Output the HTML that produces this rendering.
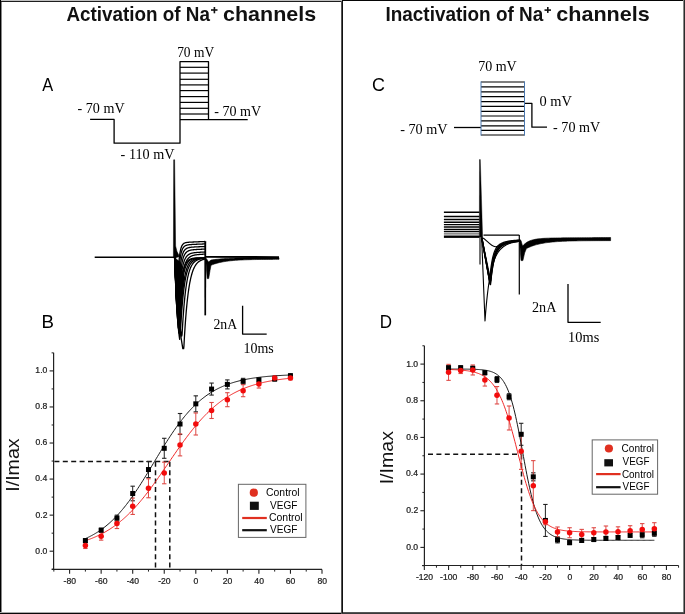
<!DOCTYPE html>
<html><head><meta charset="utf-8"><style>
html,body{margin:0;padding:0;background:#fff;}
svg{display:block;will-change:transform;}

</style></head><body>
<svg width="685" height="614" viewBox="0 0 685 614">
<rect width="685" height="614" fill="#fff"/>
<rect x="0" y="0" width="342" height="1" fill="#c0c0c0"/>
<rect x="0" y="1" width="342" height="1" fill="#1e1e1e"/>
<rect x="0" y="0" width="1" height="614" fill="#000"/>
<rect x="1" y="2" width="1" height="611" fill="#888"/>
<rect x="0" y="612" width="342" height="1" fill="#aaa"/>
<rect x="0" y="613" width="342" height="1" fill="#080808"/>
<rect x="341" y="1" width="1" height="613" fill="#555"/>
<rect x="342" y="0" width="1" height="614" fill="#111"/>
<rect x="342" y="0" width="343" height="1" fill="#050505"/>
<rect x="683" y="0" width="1" height="614" fill="#888"/>
<rect x="684" y="0" width="1" height="614" fill="#2b2b2b"/>
<rect x="343" y="612" width="341" height="1" fill="#555"/>
<rect x="342" y="613" width="343" height="1" fill="#3a3a3a"/>
<text x="66.53" y="21.00" font-family="Liberation Sans" font-size="20" font-weight="bold" fill="#111" text-anchor="start" textLength="143.42" lengthAdjust="spacingAndGlyphs" >Activation of Na</text>
<rect x="211.00" y="9.20" width="6.50" height="1.6" fill="#111"/>
<rect x="213.60" y="7.00" width="1.6" height="6.30" fill="#111"/>
<text x="223.04" y="21.00" font-family="Liberation Sans" font-size="21" font-weight="bold" fill="#111" text-anchor="start" textLength="93.12" lengthAdjust="spacingAndGlyphs" >channels</text>
<text x="385.47" y="21.00" font-family="Liberation Sans" font-size="20" font-weight="bold" fill="#111" text-anchor="start" textLength="157.73" lengthAdjust="spacingAndGlyphs" >Inactivation of Na</text>
<rect x="544.50" y="9.30" width="6.50" height="1.6" fill="#111"/>
<rect x="547.00" y="7.00" width="1.6" height="5.90" fill="#111"/>
<text x="556.34" y="21.00" font-family="Liberation Sans" font-size="21" font-weight="bold" fill="#111" text-anchor="start" textLength="93.43" lengthAdjust="spacingAndGlyphs" >channels</text>
<text x="42.32" y="91.40" font-family="Liberation Sans" font-size="17.6" font-weight="normal" fill="#000" text-anchor="start" textLength="10.92" lengthAdjust="spacingAndGlyphs" >A</text>
<text x="41.50" y="328.10" font-family="Liberation Sans" font-size="17.6" font-weight="normal" fill="#000" text-anchor="start" textLength="12.47" lengthAdjust="spacingAndGlyphs" >B</text>
<text x="371.90" y="91.10" font-family="Liberation Sans" font-size="17.6" font-weight="normal" fill="#000" text-anchor="start" textLength="12.95" lengthAdjust="spacingAndGlyphs" >C</text>
<text x="379.64" y="328.00" font-family="Liberation Sans" font-size="17.6" font-weight="normal" fill="#000" text-anchor="start" textLength="12.26" lengthAdjust="spacingAndGlyphs" >D</text>
<text x="177.13" y="56.80" font-family="Liberation Serif" font-size="14" font-weight="normal" fill="#000" text-anchor="start" textLength="37.01" lengthAdjust="spacingAndGlyphs" >70 mV</text>
<text x="77.61" y="113.20" font-family="Liberation Serif" font-size="14" font-weight="normal" fill="#000" text-anchor="start" textLength="46.98" lengthAdjust="spacingAndGlyphs" >- 70 mV</text>
<text x="214.31" y="115.90" font-family="Liberation Serif" font-size="14" font-weight="normal" fill="#000" text-anchor="start" textLength="46.88" lengthAdjust="spacingAndGlyphs" >- 70 mV</text>
<text x="120.60" y="159.00" font-family="Liberation Serif" font-size="14" font-weight="normal" fill="#000" text-anchor="start" textLength="53.95" lengthAdjust="spacingAndGlyphs" >- 110 mV</text>
<path d="M90.10 119.40 L114.10 119.40 L114.10 143.20 L180.00 143.20 L180.00 61.70 L208.50 61.70 L208.50 119.60" stroke="#000" stroke-width="1.3" fill="none" stroke-linejoin="round" />
<line x1="180.00" y1="119.60" x2="247.70" y2="119.60" stroke="#000" stroke-width="1.3" />
<line x1="180.00" y1="67.30" x2="208.50" y2="67.30" stroke="#000" stroke-width="1.2" />
<line x1="180.00" y1="73.10" x2="208.50" y2="73.10" stroke="#000" stroke-width="1.2" />
<line x1="180.00" y1="79.30" x2="208.50" y2="79.30" stroke="#000" stroke-width="1.2" />
<line x1="180.00" y1="84.90" x2="208.50" y2="84.90" stroke="#000" stroke-width="1.2" />
<line x1="180.00" y1="90.60" x2="208.50" y2="90.60" stroke="#000" stroke-width="1.2" />
<line x1="180.00" y1="96.60" x2="208.50" y2="96.60" stroke="#000" stroke-width="1.2" />
<line x1="180.00" y1="102.40" x2="208.50" y2="102.40" stroke="#000" stroke-width="1.2" />
<line x1="180.00" y1="108.30" x2="208.50" y2="108.30" stroke="#000" stroke-width="1.2" />
<line x1="180.00" y1="114.00" x2="208.50" y2="114.00" stroke="#000" stroke-width="1.2" />
<line x1="94.70" y1="257.30" x2="176.00" y2="257.30" stroke="#000" stroke-width="1.6" />
<path d="M173.4 258 L173.7 159.8 L174.6 159.8 L175.6 246 Q176.5 252 179.5 256.5 L175 258 Z" stroke="#000" stroke-width="0.5" fill="#000" stroke-linejoin="round" />
<path d="M175.20 258.00 L175.24 264.00 L175.35 270.00 L175.53 276.00 L175.79 282.00 L176.12 288.00 L176.52 294.00 L177.00 300.00 L177.41 288.02 L177.81 278.53 L178.22 271.01 L178.63 265.05 L179.04 260.32 L179.44 256.58 L179.85 253.62 L180.26 251.27 L180.67 249.41 L181.07 247.93 L181.48 246.76 L181.89 245.83 L182.29 245.10 L182.70 244.52 L183.11 244.06 L183.52 243.69 L183.92 243.40 L184.33 243.17 L184.74 242.99 L185.14 242.85 L185.55 242.74 L185.96 242.64 L186.37 242.56 L186.77 242.48 L187.18 242.42 L187.59 242.37 L188.00 242.32 L188.40 242.28 L188.81 242.25 L189.22 242.22 L189.62 242.19 L190.03 242.16 L190.44 242.14 L190.85 242.12 L191.25 242.10 L191.66 242.07 L192.07 242.06 L192.48 242.04 L192.88 242.02 L193.29 242.00 L193.70 241.98 L194.10 241.96 L194.51 241.94 L194.92 241.93 L195.33 241.91 L195.73 241.89 L196.14 241.87 L196.55 241.86 L196.96 241.84 L197.36 241.82 L197.77 241.80 L198.18 241.79 L198.58 241.77 L198.99 241.75 L199.40 241.74 L199.81 241.72 L200.21 241.70 L200.62 241.68 L201.03 241.67 L201.43 241.65 L201.84 241.63 L202.25 241.62 L202.66 241.60 L203.06 241.58 L203.47 241.56 L203.88 241.55 L204.29 241.53 L204.69 241.51 L205.10 241.50" stroke="#000" stroke-width="1.3" fill="none" stroke-linejoin="round" />
<path d="M175.20 258.00 L175.24 264.71 L175.36 271.43 L175.57 278.14 L175.85 284.86 L176.22 291.57 L176.67 298.29 L177.20 305.00 L177.60 293.96 L178.01 284.94 L178.41 277.58 L178.82 271.56 L179.22 266.64 L179.63 262.63 L180.03 259.35 L180.43 256.66 L180.84 254.47 L181.24 252.69 L181.65 251.22 L182.05 250.03 L182.46 249.05 L182.86 248.26 L183.27 247.61 L183.67 247.07 L184.07 246.64 L184.48 246.28 L184.88 245.99 L185.29 245.76 L185.69 245.56 L186.10 245.40 L186.50 245.26 L186.90 245.13 L187.31 245.03 L187.71 244.94 L188.12 244.87 L188.52 244.80 L188.93 244.75 L189.33 244.70 L189.73 244.66 L190.14 244.62 L190.54 244.59 L190.95 244.55 L191.35 244.53 L191.76 244.50 L192.16 244.47 L192.57 244.45 L192.97 244.43 L193.37 244.41 L193.78 244.39 L194.18 244.37 L194.59 244.35 L194.99 244.33 L195.40 244.31 L195.80 244.29 L196.20 244.27 L196.61 244.26 L197.01 244.24 L197.42 244.22 L197.82 244.20 L198.23 244.19 L198.63 244.17 L199.03 244.15 L199.44 244.14 L199.84 244.12 L200.25 244.10 L200.65 244.08 L201.06 244.07 L201.46 244.05 L201.87 244.03 L202.27 244.02 L202.67 244.00 L203.08 243.98 L203.48 243.96 L203.89 243.95 L204.29 243.93 L204.70 243.91 L205.10 243.90" stroke="#000" stroke-width="1.3" fill="none" stroke-linejoin="round" />
<path d="M175.20 258.00 L175.25 265.43 L175.39 272.86 L175.62 280.29 L175.95 287.71 L176.37 295.14 L176.89 302.57 L177.50 310.00 L177.90 299.99 L178.30 291.58 L178.70 284.51 L179.10 278.57 L179.50 273.58 L179.90 269.38 L180.30 265.86 L180.70 262.90 L181.10 260.41 L181.50 258.31 L181.90 256.56 L182.30 255.08 L182.70 253.84 L183.10 252.79 L183.50 251.92 L183.90 251.18 L184.30 250.56 L184.70 250.04 L185.10 249.60 L185.50 249.23 L185.90 248.93 L186.30 248.65 L186.70 248.42 L187.10 248.22 L187.50 248.05 L187.90 247.90 L188.30 247.78 L188.70 247.67 L189.10 247.57 L189.50 247.49 L189.90 247.42 L190.30 247.36 L190.70 247.30 L191.10 247.25 L191.50 247.21 L191.90 247.17 L192.30 247.14 L192.70 247.10 L193.10 247.07 L193.50 247.04 L193.90 247.02 L194.30 246.99 L194.70 246.97 L195.10 246.95 L195.50 246.93 L195.90 246.90 L196.30 246.88 L196.70 246.86 L197.10 246.85 L197.50 246.83 L197.90 246.81 L198.30 246.79 L198.70 246.77 L199.10 246.75 L199.50 246.74 L199.90 246.72 L200.30 246.70 L200.70 246.68 L201.10 246.67 L201.50 246.65 L201.90 246.63 L202.30 246.61 L202.70 246.60 L203.10 246.58 L203.50 246.56 L203.90 246.55 L204.30 246.53 L204.70 246.51 L205.10 246.50" stroke="#000" stroke-width="1.3" fill="none" stroke-linejoin="round" />
<path d="M175.20 258.00 L175.25 266.14 L175.41 274.29 L175.68 282.43 L176.05 290.57 L176.53 298.71 L177.11 306.86 L177.80 315.00 L178.20 305.81 L178.59 297.92 L178.99 291.14 L179.38 285.32 L179.78 280.32 L180.17 276.02 L180.57 272.34 L180.97 269.17 L181.36 266.45 L181.76 264.11 L182.15 262.11 L182.55 260.38 L182.94 258.90 L183.34 257.63 L183.73 256.54 L184.13 255.60 L184.53 254.80 L184.92 254.11 L185.32 253.51 L185.71 253.00 L186.11 252.56 L186.50 252.17 L186.90 251.83 L187.30 251.53 L187.69 251.28 L188.09 251.06 L188.48 250.87 L188.88 250.70 L189.27 250.55 L189.67 250.42 L190.07 250.31 L190.46 250.21 L190.86 250.12 L191.25 250.05 L191.65 249.98 L192.04 249.92 L192.44 249.86 L192.83 249.81 L193.23 249.77 L193.63 249.73 L194.02 249.69 L194.42 249.65 L194.81 249.62 L195.21 249.59 L195.60 249.56 L196.00 249.54 L196.40 249.51 L196.79 249.49 L197.19 249.47 L197.58 249.44 L197.98 249.42 L198.37 249.40 L198.77 249.38 L199.17 249.36 L199.56 249.34 L199.96 249.33 L200.35 249.31 L200.75 249.29 L201.14 249.27 L201.54 249.25 L201.93 249.24 L202.33 249.22 L202.73 249.20 L203.12 249.18 L203.52 249.17 L203.91 249.15 L204.31 249.13 L204.70 249.11 L205.10 249.10" stroke="#000" stroke-width="1.3" fill="none" stroke-linejoin="round" />
<path d="M175.20 258.00 L175.26 266.57 L175.43 275.14 L175.71 283.71 L176.11 292.29 L176.63 300.86 L177.26 309.43 L178.00 318.00 L178.39 310.00 L178.79 302.98 L179.18 296.82 L179.57 291.42 L179.96 286.68 L180.36 282.52 L180.75 278.88 L181.14 275.68 L181.53 272.87 L181.93 270.41 L182.32 268.25 L182.71 266.35 L183.11 264.69 L183.50 263.23 L183.89 261.95 L184.28 260.83 L184.68 259.84 L185.07 258.98 L185.46 258.22 L185.86 257.55 L186.25 256.96 L186.64 256.43 L187.03 255.97 L187.43 255.56 L187.82 255.19 L188.21 254.87 L188.60 254.59 L189.00 254.34 L189.39 254.12 L189.78 253.92 L190.18 253.75 L190.57 253.60 L190.96 253.46 L191.35 253.34 L191.75 253.23 L192.14 253.13 L192.53 253.04 L192.92 252.96 L193.32 252.89 L193.71 252.82 L194.10 252.76 L194.50 252.71 L194.89 252.66 L195.28 252.61 L195.67 252.57 L196.07 252.53 L196.46 252.50 L196.85 252.46 L197.24 252.43 L197.64 252.40 L198.03 252.38 L198.42 252.35 L198.82 252.32 L199.21 252.30 L199.60 252.28 L199.99 252.25 L200.39 252.23 L200.78 252.21 L201.17 252.19 L201.57 252.17 L201.96 252.15 L202.35 252.13 L202.74 252.11 L203.14 252.09 L203.53 252.08 L203.92 252.06 L204.31 252.04 L204.71 252.02 L205.10 252.00" stroke="#000" stroke-width="1.3" fill="none" stroke-linejoin="round" />
<path d="M175.20 258.00 L175.26 267.14 L175.45 276.29 L175.77 285.43 L176.21 294.57 L176.78 303.71 L177.48 312.86 L178.30 322.00 L178.69 314.76 L179.08 308.29 L179.47 302.53 L179.85 297.39 L180.24 292.80 L180.63 288.71 L181.02 285.06 L181.41 281.80 L181.80 278.90 L182.18 276.31 L182.57 274.00 L182.96 271.94 L183.35 270.10 L183.74 268.46 L184.13 266.99 L184.51 265.69 L184.90 264.52 L185.29 263.48 L185.68 262.56 L186.07 261.73 L186.46 260.97 L186.84 260.30 L187.23 259.70 L187.62 259.16 L188.01 258.67 L188.40 258.24 L188.79 257.85 L189.18 257.51 L189.56 257.19 L189.95 256.91 L190.34 256.66 L190.73 256.44 L191.12 256.23 L191.51 256.05 L191.89 255.88 L192.28 255.73 L192.67 255.60 L193.06 255.48 L193.45 255.37 L193.84 255.27 L194.22 255.17 L194.61 255.09 L195.00 255.01 L195.39 254.94 L195.78 254.88 L196.17 254.82 L196.56 254.77 L196.94 254.72 L197.33 254.67 L197.72 254.63 L198.11 254.59 L198.50 254.55 L198.89 254.51 L199.27 254.48 L199.66 254.45 L200.05 254.42 L200.44 254.39 L200.83 254.36 L201.22 254.34 L201.60 254.31 L201.99 254.29 L202.38 254.27 L202.77 254.24 L203.16 254.22 L203.55 254.20 L203.93 254.18 L204.32 254.16 L204.71 254.14 L205.10 254.12" stroke="#000" stroke-width="1.3" fill="none" stroke-linejoin="round" />
<path d="M175.20 258.00 L175.24 265.78 L175.35 273.56 L175.54 281.33 L175.81 289.11 L176.16 296.89 L176.58 304.67 L177.08 312.44 L177.65 320.22 L178.30 328.00 L178.64 320.49 L178.98 313.79 L179.32 307.80 L179.66 302.46 L180.00 297.68 L180.34 293.42 L180.67 289.61 L181.01 286.21 L181.35 283.17 L181.69 280.46 L182.03 278.04 L182.37 275.87 L182.71 273.94 L183.05 272.21 L183.39 270.67 L183.73 269.30 L184.07 268.07 L184.41 266.97 L184.75 265.99 L185.08 265.11 L185.42 264.33 L185.76 263.63 L186.10 263.01 L186.44 262.45 L186.78 261.96 L187.12 261.51 L187.46 261.11 L187.80 260.76 L188.14 260.44 L188.48 260.16 L188.82 259.91 L189.16 259.68 L189.49 259.48 L189.83 259.30 L190.17 259.14 L190.51 259.00 L190.85 258.87 L191.19 258.76 L191.53 258.65 L191.87 258.56 L192.21 258.48 L192.55 258.41 L192.89 258.34 L193.23 258.28 L193.57 258.23 L193.91 258.19 L194.24 258.15 L194.58 258.11 L194.92 258.08 L195.26 258.05 L195.60 258.02 L195.94 258.00 L196.28 257.98 L196.62 257.96 L196.96 257.94 L197.30 257.92 L197.64 257.91 L197.98 257.90 L198.32 257.89 L198.65 257.88 L198.99 257.87 L199.33 257.86 L199.67 257.86 L200.01 257.85 L200.35 257.85 L200.69 257.84 L201.03 257.84 L201.37 257.83 L201.71 257.83 L202.05 257.83 L202.39 257.82 L202.73 257.82 L203.06 257.82 L203.40 257.82 L203.74 257.81 L204.08 257.81 L204.42 257.81 L204.76 257.81 L205.10 257.81" stroke="#000" stroke-width="1.3" fill="none" stroke-linejoin="round" />
<path d="M175.20 258.00 L175.24 266.33 L175.38 274.67 L175.60 283.00 L175.91 291.33 L176.31 299.67 L176.80 308.00 L177.38 316.33 L178.04 324.67 L178.80 333.00 L179.13 325.58 L179.47 318.89 L179.80 312.87 L180.13 307.44 L180.46 302.54 L180.80 298.13 L181.13 294.15 L181.46 290.57 L181.80 287.34 L182.13 284.44 L182.46 281.81 L182.79 279.45 L183.13 277.32 L183.46 275.40 L183.79 273.67 L184.13 272.11 L184.46 270.71 L184.79 269.44 L185.13 268.30 L185.46 267.28 L185.79 266.35 L186.12 265.51 L186.46 264.76 L186.79 264.08 L187.12 263.47 L187.46 262.92 L187.79 262.43 L188.12 261.98 L188.45 261.58 L188.79 261.21 L189.12 260.89 L189.45 260.59 L189.79 260.32 L190.12 260.09 L190.45 259.87 L190.78 259.67 L191.12 259.50 L191.45 259.34 L191.78 259.20 L192.12 259.07 L192.45 258.95 L192.78 258.85 L193.12 258.76 L193.45 258.67 L193.78 258.60 L194.11 258.53 L194.45 258.47 L194.78 258.41 L195.11 258.36 L195.45 258.31 L195.78 258.27 L196.11 258.24 L196.44 258.20 L196.78 258.17 L197.11 258.15 L197.44 258.12 L197.78 258.10 L198.11 258.08 L198.44 258.06 L198.77 258.05 L199.11 258.03 L199.44 258.02 L199.77 258.01 L200.11 258.00 L200.44 257.99 L200.77 257.98 L201.11 257.97 L201.44 257.96 L201.77 257.96 L202.10 257.95 L202.44 257.95 L202.77 257.94 L203.10 257.94 L203.44 257.93 L203.77 257.93 L204.10 257.93 L204.43 257.92 L204.77 257.92 L205.10 257.92" stroke="#000" stroke-width="1.3" fill="none" stroke-linejoin="round" />
<path d="M175.20 258.00 L175.25 267.03 L175.42 276.07 L175.69 285.10 L176.07 294.13 L176.56 303.17 L177.16 312.20 L177.86 321.23 L178.68 330.27 L179.60 339.30 L179.92 332.14 L180.25 325.61 L180.57 319.65 L180.89 314.22 L181.21 309.27 L181.54 304.75 L181.86 300.63 L182.18 296.88 L182.51 293.45 L182.83 290.33 L183.15 287.48 L183.47 284.88 L183.80 282.51 L184.12 280.35 L184.44 278.38 L184.76 276.59 L185.09 274.95 L185.41 273.46 L185.73 272.10 L186.06 270.85 L186.38 269.72 L186.70 268.69 L187.02 267.75 L187.35 266.89 L187.67 266.11 L187.99 265.39 L188.32 264.74 L188.64 264.15 L188.96 263.60 L189.28 263.11 L189.61 262.66 L189.93 262.25 L190.25 261.88 L190.57 261.53 L190.90 261.22 L191.22 260.94 L191.54 260.68 L191.87 260.44 L192.19 260.23 L192.51 260.03 L192.83 259.85 L193.16 259.69 L193.48 259.54 L193.80 259.41 L194.13 259.28 L194.45 259.17 L194.77 259.07 L195.09 258.97 L195.42 258.89 L195.74 258.81 L196.06 258.74 L196.38 258.67 L196.71 258.61 L197.03 258.56 L197.35 258.51 L197.68 258.46 L198.00 258.42 L198.32 258.39 L198.64 258.35 L198.97 258.32 L199.29 258.29 L199.61 258.27 L199.94 258.24 L200.26 258.22 L200.58 258.20 L200.90 258.18 L201.23 258.17 L201.55 258.15 L201.87 258.14 L202.19 258.13 L202.52 258.12 L202.84 258.11 L203.16 258.10 L203.49 258.09 L203.81 258.08 L204.13 258.07 L204.45 258.07 L204.78 258.06 L205.10 258.06" stroke="#000" stroke-width="1.3" fill="none" stroke-linejoin="round" />
<path d="M175.20 258.00 L175.27 266.00 L175.46 274.00 L175.79 282.00 L176.25 290.00 L176.84 298.00 L177.56 306.00 L178.41 314.00 L179.39 322.00 L180.50 330.00 L180.81 324.61 L181.12 319.62 L181.43 315.00 L181.75 310.73 L182.06 306.79 L182.37 303.13 L182.68 299.75 L182.99 296.62 L183.30 293.73 L183.61 291.06 L183.93 288.58 L184.24 286.29 L184.55 284.17 L184.86 282.21 L185.17 280.40 L185.48 278.72 L185.79 277.17 L186.11 275.73 L186.42 274.40 L186.73 273.18 L187.04 272.04 L187.35 270.99 L187.66 270.02 L187.97 269.12 L188.28 268.28 L188.60 267.51 L188.91 266.80 L189.22 266.14 L189.53 265.53 L189.84 264.97 L190.15 264.45 L190.46 263.96 L190.78 263.52 L191.09 263.10 L191.40 262.72 L191.71 262.37 L192.02 262.04 L192.33 261.74 L192.64 261.46 L192.96 261.20 L193.27 260.96 L193.58 260.74 L193.89 260.53 L194.20 260.34 L194.51 260.17 L194.82 260.01 L195.14 259.85 L195.45 259.72 L195.76 259.59 L196.07 259.47 L196.38 259.36 L196.69 259.26 L197.00 259.16 L197.32 259.08 L197.63 259.00 L197.94 258.92 L198.25 258.85 L198.56 258.79 L198.87 258.73 L199.18 258.67 L199.49 258.62 L199.81 258.58 L200.12 258.53 L200.43 258.49 L200.74 258.46 L201.05 258.42 L201.36 258.39 L201.67 258.36 L201.99 258.33 L202.30 258.31 L202.61 258.29 L202.92 258.26 L203.23 258.25 L203.54 258.23 L203.85 258.21 L204.17 258.19 L204.48 258.18 L204.79 258.17 L205.10 258.15" stroke="#000" stroke-width="1.3" fill="none" stroke-linejoin="round" />
<path d="M175.20 258.00 L175.28 266.67 L175.51 275.33 L175.90 284.00 L176.44 292.67 L177.14 301.33 L178.00 310.00 L179.01 318.67 L180.18 327.33 L181.50 336.00 L181.80 336.00 L182.10 334.17 L182.40 328.82 L182.69 323.85 L182.99 319.23 L183.29 314.94 L183.59 310.94 L183.89 307.23 L184.19 303.78 L184.49 300.57 L184.79 297.58 L185.08 294.81 L185.38 292.23 L185.68 289.83 L185.98 287.60 L186.28 285.53 L186.58 283.60 L186.88 281.81 L187.18 280.14 L187.47 278.59 L187.77 277.15 L188.07 275.82 L188.37 274.57 L188.67 273.41 L188.97 272.34 L189.27 271.34 L189.57 270.41 L189.86 269.54 L190.16 268.74 L190.46 267.99 L190.76 267.29 L191.06 266.65 L191.36 266.05 L191.66 265.49 L191.96 264.97 L192.25 264.49 L192.55 264.04 L192.85 263.62 L193.15 263.23 L193.45 262.87 L193.75 262.54 L194.05 262.23 L194.35 261.94 L194.64 261.67 L194.94 261.42 L195.24 261.18 L195.54 260.97 L195.84 260.76 L196.14 260.58 L196.44 260.40 L196.74 260.24 L197.03 260.09 L197.33 259.95 L197.63 259.82 L197.93 259.70 L198.23 259.59 L198.53 259.48 L198.83 259.39 L199.13 259.30 L199.42 259.21 L199.72 259.13 L200.02 259.06 L200.32 258.99 L200.62 258.93 L200.92 258.87 L201.22 258.82 L201.52 258.77 L201.81 258.72 L202.11 258.68 L202.41 258.64 L202.71 258.60 L203.01 258.56 L203.31 258.53 L203.61 258.50 L203.91 258.47 L204.20 258.45 L204.50 258.42 L204.80 258.40 L205.10 258.38" stroke="#000" stroke-width="1.3" fill="none" stroke-linejoin="round" />
<path d="M175.20 258.00 L175.29 268.08 L175.58 278.16 L176.04 288.23 L176.70 298.31 L177.55 308.39 L178.58 318.47 L179.80 328.54 L181.20 338.62 L182.80 348.70 L183.08 348.70 L183.36 348.70 L183.65 348.70 L183.93 346.20 L184.21 340.96 L184.49 336.03 L184.78 331.40 L185.06 327.04 L185.34 322.95 L185.62 319.09 L185.91 315.47 L186.19 312.06 L186.47 308.85 L186.75 305.84 L187.03 303.00 L187.32 300.34 L187.60 297.83 L187.88 295.47 L188.16 293.25 L188.45 291.16 L188.73 289.20 L189.01 287.36 L189.29 285.62 L189.57 283.99 L189.86 282.45 L190.14 281.01 L190.42 279.65 L190.70 278.38 L190.99 277.18 L191.27 276.05 L191.55 274.98 L191.83 273.99 L192.12 273.05 L192.40 272.16 L192.68 271.33 L192.96 270.55 L193.24 269.81 L193.53 269.12 L193.81 268.47 L194.09 267.86 L194.37 267.29 L194.66 266.75 L194.94 266.24 L195.22 265.76 L195.50 265.31 L195.78 264.89 L196.07 264.49 L196.35 264.11 L196.63 263.76 L196.91 263.43 L197.20 263.12 L197.48 262.83 L197.76 262.55 L198.04 262.29 L198.33 262.05 L198.61 261.82 L198.89 261.60 L199.17 261.40 L199.45 261.21 L199.74 261.03 L200.02 260.86 L200.30 260.70 L200.58 260.56 L200.87 260.42 L201.15 260.28 L201.43 260.16 L201.71 260.04 L201.99 259.93 L202.28 259.83 L202.56 259.73 L202.84 259.64 L203.12 259.56 L203.41 259.48 L203.69 259.40 L203.97 259.33 L204.25 259.26 L204.54 259.20 L204.82 259.14 L205.10 259.08" stroke="#000" stroke-width="1.3" fill="none" stroke-linejoin="round" />
<path d="M175.20 258.00 L175.24 265.39 L175.35 272.78 L175.53 280.17 L175.78 287.56 L176.11 294.95 L176.51 302.35 L176.98 309.74 L177.53 317.13 L178.15 324.52 L178.84 331.91 L179.60 339.30 L180.05 329.58 L180.49 321.03 L180.94 313.50 L181.38 306.86 L181.83 301.03 L182.27 295.88 L182.72 291.36 L183.16 287.37 L183.61 283.86 L184.05 280.77 L184.50 278.05 L180.00 262.00 Z" stroke="#000" stroke-width="0.5" fill="#000" stroke-linejoin="round" />
<path d="M204.4 241.2 L206.1 241.2 L206.0 315.2 L204.5 315.2 Z" stroke="#000" stroke-width="0.2" fill="#000" stroke-linejoin="round" />
<line x1="205.50" y1="256.80" x2="279.00" y2="257.10" stroke="#000" stroke-width="1.8" />
<path d="M205.60 258.00 L207.20 278.60 L208.70 278.60 L210.00 270.50 L211.00 265.30 L212.74 264.60 L214.49 263.98 L216.23 263.43 L217.97 262.95 L219.72 262.52 L221.46 262.14 L223.21 261.81 L224.95 261.52 L226.69 261.26 L228.44 261.03 L230.18 260.82 L231.92 260.65 L233.67 260.49 L235.41 260.35 L237.15 260.23 L238.90 260.12 L240.64 260.02 L242.38 259.94 L244.13 259.86 L245.87 259.80 L247.62 259.74 L249.36 259.69 L251.10 259.64 L252.85 259.60 L254.59 259.57 L256.33 259.54 L258.08 259.51 L259.82 259.48 L261.56 259.46 L263.31 259.44 L265.05 259.43 L266.79 259.41 L268.54 259.40 L270.28 259.39 L272.03 259.38 L273.77 259.37 L275.51 259.36 L277.26 259.35 L279.00 259.35 L279.00 257.72 L277.26 257.72 L275.51 257.72 L273.77 257.73 L272.03 257.73 L270.28 257.73 L268.54 257.74 L266.79 257.74 L265.05 257.75 L263.31 257.76 L261.56 257.76 L259.82 257.77 L258.08 257.78 L256.33 257.79 L254.59 257.81 L252.85 257.82 L251.10 257.84 L249.36 257.85 L247.62 257.88 L245.87 257.90 L244.13 257.93 L242.38 257.96 L240.64 257.99 L238.90 258.03 L237.15 258.07 L235.41 258.12 L233.67 258.18 L231.92 258.24 L230.18 258.31 L228.44 258.39 L226.69 258.48 L224.95 258.59 L223.21 258.70 L221.46 258.84 L219.72 258.99 L217.97 259.16 L216.23 259.35 L214.49 259.57 L212.74 259.82 L211.00 260.10 L208.50 262.00 L207.00 259.50 Z" stroke="#000" stroke-width="0.6" fill="#000" stroke-linejoin="round" />
<path d="M242.6 305.8 L242.6 334.1 L266.7 334.1" stroke="#000" stroke-width="1.3" fill="none" stroke-linejoin="round" />
<text x="213.48" y="328.60" font-family="Liberation Serif" font-size="14" font-weight="normal" fill="#000" text-anchor="start" textLength="23.72" lengthAdjust="spacingAndGlyphs" >2nA</text>
<text x="243.44" y="352.60" font-family="Liberation Serif" font-size="14" font-weight="normal" fill="#000" text-anchor="start" textLength="30.31" lengthAdjust="spacingAndGlyphs" >10ms</text>
<text x="478.19" y="70.80" font-family="Liberation Serif" font-size="14" font-weight="normal" fill="#000" text-anchor="start" textLength="38.55" lengthAdjust="spacingAndGlyphs" >70 mV</text>
<text x="400.20" y="133.50" font-family="Liberation Serif" font-size="14" font-weight="normal" fill="#000" text-anchor="start" textLength="47.48" lengthAdjust="spacingAndGlyphs" >- 70 mV</text>
<text x="539.52" y="105.50" font-family="Liberation Serif" font-size="14" font-weight="normal" fill="#000" text-anchor="start" textLength="32.42" lengthAdjust="spacingAndGlyphs" >0 mV</text>
<text x="553.11" y="131.80" font-family="Liberation Serif" font-size="14" font-weight="normal" fill="#000" text-anchor="start" textLength="47.08" lengthAdjust="spacingAndGlyphs" >- 70 mV</text>
<line x1="454.00" y1="127.50" x2="481.00" y2="127.50" stroke="#000" stroke-width="1.3" />
<path d="M524.50 103.30 L531.90 103.30 L531.90 127.20 L547.00 127.20" stroke="#000" stroke-width="1.3" fill="none" stroke-linejoin="round" />
<line x1="481.00" y1="82.00" x2="524.50" y2="82.00" stroke="#000" stroke-width="1.2" />
<line x1="481.00" y1="86.90" x2="524.50" y2="86.90" stroke="#000" stroke-width="1.2" />
<line x1="481.00" y1="91.80" x2="524.50" y2="91.80" stroke="#000" stroke-width="1.2" />
<line x1="481.00" y1="96.60" x2="524.50" y2="96.60" stroke="#000" stroke-width="1.2" />
<line x1="481.00" y1="101.60" x2="524.50" y2="101.60" stroke="#000" stroke-width="1.2" />
<line x1="481.00" y1="106.40" x2="524.50" y2="106.40" stroke="#000" stroke-width="1.2" />
<line x1="481.00" y1="111.30" x2="524.50" y2="111.30" stroke="#000" stroke-width="1.2" />
<line x1="481.00" y1="116.00" x2="524.50" y2="116.00" stroke="#000" stroke-width="1.2" />
<line x1="481.00" y1="120.80" x2="524.50" y2="120.80" stroke="#000" stroke-width="1.2" />
<line x1="481.00" y1="125.80" x2="524.50" y2="125.80" stroke="#000" stroke-width="1.2" />
<line x1="481.00" y1="130.30" x2="524.50" y2="130.30" stroke="#000" stroke-width="1.2" />
<line x1="481.00" y1="135.00" x2="524.50" y2="135.00" stroke="#000" stroke-width="1.2" />
<line x1="481.00" y1="81.40" x2="481.00" y2="135.60" stroke="#4a78b0" stroke-width="1.0" />
<line x1="524.50" y1="81.40" x2="524.50" y2="135.60" stroke="#4a78b0" stroke-width="1.0" />
<line x1="443.90" y1="212.30" x2="479.40" y2="212.30" stroke="#000" stroke-width="1.4" />
<line x1="443.90" y1="216.50" x2="479.40" y2="216.50" stroke="#000" stroke-width="1.4" />
<line x1="443.90" y1="219.50" x2="479.40" y2="219.50" stroke="#000" stroke-width="1.4" />
<line x1="443.90" y1="222.30" x2="479.40" y2="222.30" stroke="#000" stroke-width="1.4" />
<line x1="443.90" y1="224.60" x2="479.40" y2="224.60" stroke="#000" stroke-width="1.4" />
<line x1="443.90" y1="227.00" x2="479.40" y2="227.00" stroke="#000" stroke-width="1.4" />
<line x1="443.90" y1="229.50" x2="479.40" y2="229.50" stroke="#000" stroke-width="1.4" />
<line x1="443.90" y1="231.60" x2="479.40" y2="231.60" stroke="#000" stroke-width="1.4" />
<line x1="443.90" y1="233.80" x2="479.40" y2="233.80" stroke="#666" stroke-width="1.2" />
<rect x="443.9" y="235.5" width="35.5" height="2.4" fill="#000"/>
<path d="M479.3 237 L479.5 159.6 L480.3 159.6 L482.6 237 Z" stroke="#000" stroke-width="0.4" fill="#000" stroke-linejoin="round" />
<line x1="480.00" y1="236.00" x2="480.00" y2="264.40" stroke="#000" stroke-width="1.1" />
<line x1="483.50" y1="235.10" x2="519.30" y2="235.10" stroke="#000" stroke-width="1.2" />
<line x1="519.30" y1="235.10" x2="519.30" y2="294.60" stroke="#000" stroke-width="1.2" />
<path d="M481.60 237.00 L485.00 321.00 L485.58 313.42 L486.16 306.65 L486.74 300.58 L487.33 295.15 L487.91 290.27 L488.49 285.90 L489.07 281.96 L489.65 278.41 L490.23 275.22 L490.81 272.33 L491.39 269.72 L491.98 267.36 L492.56 265.22 L493.14 263.28 L493.72 261.52 L494.30 259.91 L494.88 258.44 L495.46 257.11 L496.05 255.88 L496.63 254.76 L497.21 253.74 L497.79 252.79 L498.37 251.93 L498.95 251.13 L499.53 250.39 L500.12 249.71 L500.70 249.09 L501.28 248.50 L501.86 247.96 L502.44 247.46 L503.02 247.00 L503.60 246.57 L504.18 246.16 L504.77 245.79 L505.35 245.44 L505.93 245.11 L506.51 244.80 L507.09 244.52 L507.67 244.25 L508.25 244.00 L508.84 243.76 L509.42 243.54 L510.00 243.34 L510.58 243.14 L511.16 242.96 L511.74 242.78 L512.32 242.62 L512.91 242.47 L513.49 242.32 L514.07 242.19 L514.65 242.06 L515.23 241.94 L515.81 241.82 L516.39 241.72 L516.97 241.62 L517.56 241.52 L518.14 241.43 L518.72 241.34 L519.30 241.26" stroke="#000" stroke-width="1.1" fill="none" stroke-linejoin="round" />
<path d="M481.80 238.00 L489.60 281.00 L490.10 275.40 L490.61 270.67 L491.11 266.67 L491.61 263.28 L492.12 260.40 L492.62 257.95 L493.12 255.85 L493.63 254.06 L494.13 252.52 L494.63 251.19 L495.14 250.04 L495.64 249.04 L496.14 248.17 L496.65 247.41 L497.15 246.74 L497.65 246.14 L498.16 245.62 L498.66 245.15 L499.16 244.73 L499.67 244.35 L500.17 244.01 L500.67 243.71 L501.18 243.43 L501.68 243.17 L502.18 242.94 L502.69 242.73 L503.19 242.53 L503.69 242.35 L504.20 242.18 L504.70 242.03 L505.21 241.88 L505.71 241.75 L506.21 241.62 L506.72 241.51 L507.22 241.40 L507.72 241.29 L508.23 241.20 L508.73 241.11 L509.23 241.02 L509.74 240.94 L510.24 240.87 L510.74 240.80 L511.25 240.73 L511.75 240.67 L512.25 240.61 L512.76 240.55 L513.26 240.50 L513.76 240.45 L514.27 240.40 L514.77 240.36 L515.27 240.32 L515.78 240.28 L516.28 240.24 L516.78 240.21 L517.29 240.17 L517.79 240.14 L518.29 240.11 L518.80 240.09 L519.30 240.06" stroke="#000" stroke-width="1.2" fill="none" stroke-linejoin="round" />
<path d="M481.80 238.00 L490.00 283.00 L490.50 277.61 L490.99 273.01 L491.49 269.06 L491.99 265.67 L492.48 262.76 L492.98 260.24 L493.48 258.07 L493.97 256.20 L494.47 254.56 L494.97 253.14 L495.46 251.90 L495.96 250.82 L496.46 249.86 L496.95 249.02 L497.45 248.27 L497.95 247.61 L498.44 247.02 L498.94 246.49 L499.44 246.01 L499.93 245.58 L500.43 245.20 L500.93 244.85 L501.42 244.52 L501.92 244.23 L502.42 243.96 L502.91 243.72 L503.41 243.49 L503.91 243.28 L504.40 243.08 L504.90 242.90 L505.39 242.73 L505.89 242.57 L506.39 242.42 L506.88 242.28 L507.38 242.15 L507.88 242.03 L508.37 241.92 L508.87 241.81 L509.37 241.71 L509.86 241.61 L510.36 241.52 L510.86 241.43 L511.35 241.35 L511.85 241.27 L512.35 241.20 L512.84 241.13 L513.34 241.07 L513.84 241.00 L514.33 240.94 L514.83 240.89 L515.33 240.83 L515.82 240.78 L516.32 240.74 L516.82 240.69 L517.31 240.65 L517.81 240.61 L518.31 240.57 L518.80 240.53 L519.30 240.49" stroke="#000" stroke-width="1.5" fill="none" stroke-linejoin="round" />
<path d="M481.80 238.00 L490.20 284.00 L490.69 278.70 L491.19 274.13 L491.68 270.19 L492.17 266.79 L492.67 263.85 L493.16 261.30 L493.65 259.09 L494.15 257.16 L494.64 255.48 L495.13 254.01 L495.63 252.72 L496.12 251.59 L496.61 250.59 L497.11 249.70 L497.60 248.91 L498.09 248.21 L498.58 247.59 L499.08 247.03 L499.57 246.53 L500.06 246.07 L500.56 245.66 L501.05 245.29 L501.54 244.95 L502.04 244.64 L502.53 244.35 L503.02 244.09 L503.52 243.85 L504.01 243.63 L504.50 243.42 L505.00 243.23 L505.49 243.05 L505.98 242.88 L506.48 242.73 L506.97 242.58 L507.46 242.45 L507.96 242.32 L508.45 242.20 L508.94 242.09 L509.44 241.98 L509.93 241.88 L510.42 241.78 L510.92 241.69 L511.41 241.61 L511.90 241.53 L512.39 241.45 L512.89 241.38 L513.38 241.31 L513.87 241.25 L514.37 241.19 L514.86 241.13 L515.35 241.07 L515.85 241.02 L516.34 240.97 L516.83 240.92 L517.33 240.88 L517.82 240.84 L518.31 240.80 L518.81 240.76 L519.30 240.72" stroke="#000" stroke-width="1.5" fill="none" stroke-linejoin="round" />
<path d="M481.80 238.00 L490.50 284.50 L490.99 279.55 L491.48 275.24 L491.96 271.49 L492.45 268.21 L492.94 265.35 L493.43 262.85 L493.92 260.66 L494.41 258.73 L494.89 257.03 L495.38 255.54 L495.87 254.22 L496.36 253.05 L496.85 252.01 L497.33 251.08 L497.82 250.25 L498.31 249.51 L498.80 248.85 L499.29 248.25 L499.77 247.71 L500.26 247.22 L500.75 246.78 L501.24 246.37 L501.73 246.00 L502.22 245.67 L502.70 245.36 L503.19 245.07 L503.68 244.80 L504.17 244.56 L504.66 244.33 L505.14 244.12 L505.63 243.92 L506.12 243.74 L506.61 243.57 L507.10 243.41 L507.58 243.25 L508.07 243.11 L508.56 242.98 L509.05 242.85 L509.54 242.73 L510.03 242.62 L510.51 242.51 L511.00 242.41 L511.49 242.31 L511.98 242.22 L512.47 242.13 L512.95 242.05 L513.44 241.97 L513.93 241.90 L514.42 241.82 L514.91 241.76 L515.39 241.69 L515.88 241.63 L516.37 241.57 L516.86 241.52 L517.35 241.46 L517.84 241.41 L518.32 241.36 L518.81 241.32 L519.30 241.27" stroke="#000" stroke-width="1.4" fill="none" stroke-linejoin="round" />
<path d="M481.80 238.00 L490.80 281.00 L491.28 276.72 L491.77 272.97 L492.25 269.66 L492.73 266.75 L493.22 264.19 L493.70 261.92 L494.18 259.92 L494.66 258.15 L495.15 256.58 L495.63 255.18 L496.11 253.94 L496.60 252.83 L497.08 251.84 L497.56 250.95 L498.05 250.15 L498.53 249.44 L499.01 248.79 L499.49 248.21 L499.98 247.68 L500.46 247.20 L500.94 246.77 L501.43 246.37 L501.91 246.01 L502.39 245.67 L502.88 245.37 L503.36 245.08 L503.84 244.82 L504.33 244.58 L504.81 244.36 L505.29 244.15 L505.77 243.96 L506.26 243.78 L506.74 243.61 L507.22 243.46 L507.71 243.31 L508.19 243.17 L508.67 243.04 L509.16 242.92 L509.64 242.80 L510.12 242.69 L510.61 242.59 L511.09 242.49 L511.57 242.40 L512.05 242.31 L512.54 242.23 L513.02 242.15 L513.50 242.08 L513.99 242.01 L514.47 241.94 L514.95 241.88 L515.44 241.81 L515.92 241.76 L516.40 241.70 L516.88 241.65 L517.37 241.60 L517.85 241.55 L518.33 241.50 L518.82 241.46 L519.30 241.42" stroke="#000" stroke-width="1.1" fill="none" stroke-linejoin="round" />
<path d="M482 237.5 C486 239, 490 246, 495.4 246.8 C498 246.5, 500 244.5, 504 243.5" stroke="#000" stroke-width="1.1" fill="none" stroke-linejoin="round" />
<path d="M519.40 239.00 L521.00 260.60 L522.90 260.60 L524.60 253.00 L526.40 248.60 L528.12 247.73 L529.84 246.96 L531.56 246.27 L533.27 245.66 L534.99 245.11 L536.71 244.62 L538.43 244.19 L540.15 243.80 L541.87 243.45 L543.58 243.14 L545.30 242.87 L547.02 242.62 L548.74 242.40 L550.46 242.21 L552.18 242.03 L553.89 241.88 L555.61 241.74 L557.33 241.62 L559.05 241.51 L560.77 241.41 L562.49 241.32 L564.20 241.24 L565.92 241.17 L567.64 241.11 L569.36 241.06 L571.08 241.01 L572.80 240.96 L574.51 240.92 L576.23 240.89 L577.95 240.86 L579.67 240.83 L581.39 240.80 L583.11 240.78 L584.82 240.76 L586.54 240.75 L588.26 240.73 L589.98 240.72 L591.70 240.70 L593.42 240.69 L595.13 240.68 L596.85 240.67 L598.57 240.67 L600.29 240.66 L602.01 240.65 L603.73 240.65 L605.44 240.64 L607.16 240.64 L608.88 240.63 L610.60 240.63 L610.60 237.50 L608.88 237.51 L607.16 237.52 L605.44 237.54 L603.73 237.55 L602.01 237.56 L600.29 237.57 L598.57 237.59 L596.85 237.60 L595.13 237.61 L593.42 237.62 L591.70 237.64 L589.98 237.65 L588.26 237.66 L586.54 237.67 L584.82 237.69 L583.11 237.70 L581.39 237.71 L579.67 237.72 L577.95 237.74 L576.23 237.75 L574.51 237.76 L572.80 237.78 L571.08 237.79 L569.36 237.80 L567.64 237.82 L565.92 237.84 L564.20 237.85 L562.49 237.87 L560.77 237.89 L559.05 237.91 L557.33 237.93 L555.61 237.96 L553.89 237.99 L552.18 238.03 L550.46 238.07 L548.74 238.13 L547.02 238.19 L545.30 238.27 L543.58 238.37 L541.87 238.48 L540.15 238.63 L538.43 238.82 L536.71 239.06 L534.99 239.36 L533.27 239.74 L531.56 240.22 L529.84 240.83 L528.12 241.61 L526.40 242.60 L524.00 244.50 L522.50 246.00 L521.00 240.50 Z" stroke="#000" stroke-width="0.6" fill="#000" stroke-linejoin="round" />
<path d="M568.0 283.9 L568.0 322.3 L600.7 322.3" stroke="#000" stroke-width="1.3" fill="none" stroke-linejoin="round" />
<text x="531.96" y="311.90" font-family="Liberation Serif" font-size="14" font-weight="normal" fill="#000" text-anchor="start" textLength="24.44" lengthAdjust="spacingAndGlyphs" >2nA</text>
<text x="568.11" y="342.30" font-family="Liberation Serif" font-size="14" font-weight="normal" fill="#000" text-anchor="start" textLength="31.15" lengthAdjust="spacingAndGlyphs" >10ms</text>
<line x1="53.60" y1="352.87" x2="53.60" y2="570.00" stroke="#222" stroke-width="1.2" />
<line x1="51.80" y1="569.40" x2="322.00" y2="569.40" stroke="#222" stroke-width="1.2" />
<line x1="51.60" y1="569.23" x2="53.60" y2="569.23" stroke="#222" stroke-width="1.0" />
<line x1="49.60" y1="551.20" x2="53.60" y2="551.20" stroke="#222" stroke-width="1.1" />
<text x="35.38" y="553.60" font-family="Liberation Sans" font-size="8.2" font-weight="normal" fill="#1c1c1c" text-anchor="start" textLength="11.97" lengthAdjust="spacingAndGlyphs" stroke="#1c1c1c" stroke-width="0.22">0.0</text>
<line x1="51.60" y1="533.17" x2="53.60" y2="533.17" stroke="#222" stroke-width="1.0" />
<line x1="49.60" y1="515.14" x2="53.60" y2="515.14" stroke="#222" stroke-width="1.1" />
<text x="35.46" y="517.54" font-family="Liberation Sans" font-size="8.2" font-weight="normal" fill="#1c1c1c" text-anchor="start" textLength="11.97" lengthAdjust="spacingAndGlyphs" stroke="#1c1c1c" stroke-width="0.22">0.2</text>
<line x1="51.60" y1="497.11" x2="53.60" y2="497.11" stroke="#222" stroke-width="1.0" />
<line x1="49.60" y1="479.08" x2="53.60" y2="479.08" stroke="#222" stroke-width="1.1" />
<text x="35.29" y="481.48" font-family="Liberation Sans" font-size="8.2" font-weight="normal" fill="#1c1c1c" text-anchor="start" textLength="11.97" lengthAdjust="spacingAndGlyphs" stroke="#1c1c1c" stroke-width="0.22">0.4</text>
<line x1="51.60" y1="461.05" x2="53.60" y2="461.05" stroke="#222" stroke-width="1.0" />
<line x1="49.60" y1="443.02" x2="53.60" y2="443.02" stroke="#222" stroke-width="1.1" />
<text x="35.42" y="445.42" font-family="Liberation Sans" font-size="8.2" font-weight="normal" fill="#1c1c1c" text-anchor="start" textLength="11.97" lengthAdjust="spacingAndGlyphs" stroke="#1c1c1c" stroke-width="0.22">0.6</text>
<line x1="51.60" y1="424.99" x2="53.60" y2="424.99" stroke="#222" stroke-width="1.0" />
<line x1="49.60" y1="406.96" x2="53.60" y2="406.96" stroke="#222" stroke-width="1.1" />
<text x="35.38" y="409.36" font-family="Liberation Sans" font-size="8.2" font-weight="normal" fill="#1c1c1c" text-anchor="start" textLength="11.97" lengthAdjust="spacingAndGlyphs" stroke="#1c1c1c" stroke-width="0.22">0.8</text>
<line x1="51.60" y1="388.93" x2="53.60" y2="388.93" stroke="#222" stroke-width="1.0" />
<line x1="49.60" y1="370.90" x2="53.60" y2="370.90" stroke="#222" stroke-width="1.1" />
<text x="35.38" y="373.30" font-family="Liberation Sans" font-size="8.2" font-weight="normal" fill="#1c1c1c" text-anchor="start" textLength="11.97" lengthAdjust="spacingAndGlyphs" stroke="#1c1c1c" stroke-width="0.22">1.0</text>
<line x1="51.60" y1="352.87" x2="53.60" y2="352.87" stroke="#222" stroke-width="1.0" />
<line x1="53.83" y1="569.40" x2="53.83" y2="571.60" stroke="#222" stroke-width="1.0" />
<line x1="69.60" y1="569.40" x2="69.60" y2="573.80" stroke="#222" stroke-width="1.1" />
<text x="63.56" y="583.50" font-family="Liberation Sans" font-size="8.2" font-weight="normal" fill="#1c1c1c" text-anchor="start" textLength="12.44" lengthAdjust="spacingAndGlyphs" stroke="#1c1c1c" stroke-width="0.22">-80</text>
<line x1="85.38" y1="569.40" x2="85.38" y2="571.60" stroke="#222" stroke-width="1.0" />
<line x1="101.15" y1="569.40" x2="101.15" y2="573.80" stroke="#222" stroke-width="1.1" />
<text x="95.11" y="583.50" font-family="Liberation Sans" font-size="8.2" font-weight="normal" fill="#1c1c1c" text-anchor="start" textLength="12.44" lengthAdjust="spacingAndGlyphs" stroke="#1c1c1c" stroke-width="0.22">-60</text>
<line x1="116.93" y1="569.40" x2="116.93" y2="571.60" stroke="#222" stroke-width="1.0" />
<line x1="132.70" y1="569.40" x2="132.70" y2="573.80" stroke="#222" stroke-width="1.1" />
<text x="126.66" y="583.50" font-family="Liberation Sans" font-size="8.2" font-weight="normal" fill="#1c1c1c" text-anchor="start" textLength="12.44" lengthAdjust="spacingAndGlyphs" stroke="#1c1c1c" stroke-width="0.22">-40</text>
<line x1="148.48" y1="569.40" x2="148.48" y2="571.60" stroke="#222" stroke-width="1.0" />
<line x1="164.25" y1="569.40" x2="164.25" y2="573.80" stroke="#222" stroke-width="1.1" />
<text x="158.21" y="583.50" font-family="Liberation Sans" font-size="8.2" font-weight="normal" fill="#1c1c1c" text-anchor="start" textLength="12.44" lengthAdjust="spacingAndGlyphs" stroke="#1c1c1c" stroke-width="0.22">-20</text>
<line x1="180.03" y1="569.40" x2="180.03" y2="571.60" stroke="#222" stroke-width="1.0" />
<line x1="195.80" y1="569.40" x2="195.80" y2="573.80" stroke="#222" stroke-width="1.1" />
<text x="193.61" y="583.50" font-family="Liberation Sans" font-size="8.2" font-weight="normal" fill="#1c1c1c" text-anchor="start" textLength="4.79" lengthAdjust="spacingAndGlyphs" stroke="#1c1c1c" stroke-width="0.22">0</text>
<line x1="211.58" y1="569.40" x2="211.58" y2="571.60" stroke="#222" stroke-width="1.0" />
<line x1="227.35" y1="569.40" x2="227.35" y2="573.80" stroke="#222" stroke-width="1.1" />
<text x="222.73" y="583.50" font-family="Liberation Sans" font-size="8.2" font-weight="normal" fill="#1c1c1c" text-anchor="start" textLength="9.58" lengthAdjust="spacingAndGlyphs" stroke="#1c1c1c" stroke-width="0.22">20</text>
<line x1="243.12" y1="569.40" x2="243.12" y2="571.60" stroke="#222" stroke-width="1.0" />
<line x1="258.90" y1="569.40" x2="258.90" y2="573.80" stroke="#222" stroke-width="1.1" />
<text x="254.39" y="583.50" font-family="Liberation Sans" font-size="8.2" font-weight="normal" fill="#1c1c1c" text-anchor="start" textLength="9.58" lengthAdjust="spacingAndGlyphs" stroke="#1c1c1c" stroke-width="0.22">40</text>
<line x1="274.68" y1="569.40" x2="274.68" y2="571.60" stroke="#222" stroke-width="1.0" />
<line x1="290.45" y1="569.40" x2="290.45" y2="573.80" stroke="#222" stroke-width="1.1" />
<text x="285.83" y="583.50" font-family="Liberation Sans" font-size="8.2" font-weight="normal" fill="#1c1c1c" text-anchor="start" textLength="9.58" lengthAdjust="spacingAndGlyphs" stroke="#1c1c1c" stroke-width="0.22">60</text>
<line x1="306.23" y1="569.40" x2="306.23" y2="571.60" stroke="#222" stroke-width="1.0" />
<line x1="322.00" y1="569.40" x2="322.00" y2="573.80" stroke="#222" stroke-width="1.1" />
<text x="317.40" y="583.50" font-family="Liberation Sans" font-size="8.2" font-weight="normal" fill="#1c1c1c" text-anchor="start" textLength="9.58" lengthAdjust="spacingAndGlyphs" stroke="#1c1c1c" stroke-width="0.22">80</text>
<text transform="translate(19.20,490.00) rotate(-90)" x="-1.77" y="0" font-family="Liberation Sans" font-size="18.0" fill="#111" textLength="53.42" lengthAdjust="spacingAndGlyphs">I/Imax</text>
<line x1="54.40" y1="461.50" x2="171.00" y2="461.50" stroke="#111" stroke-width="1.5" stroke-dasharray="5 3.4"/>
<line x1="155.50" y1="461.80" x2="155.50" y2="569.00" stroke="#111" stroke-width="1.5" stroke-dasharray="5 3.4"/>
<line x1="169.80" y1="461.80" x2="169.80" y2="569.00" stroke="#111" stroke-width="1.5" stroke-dasharray="5 3.4"/>
<line x1="85.38" y1="538.63" x2="85.38" y2="542.63" stroke="#222" stroke-width="1.0" />
<line x1="83.18" y1="538.63" x2="87.58" y2="538.63" stroke="#222" stroke-width="1.1" />
<line x1="83.18" y1="542.63" x2="87.58" y2="542.63" stroke="#222" stroke-width="1.1" />
<line x1="85.38" y1="542.50" x2="85.38" y2="548.50" stroke="#de4a46" stroke-width="1.0" />
<line x1="83.18" y1="542.50" x2="87.58" y2="542.50" stroke="#de4a46" stroke-width="1.1" />
<line x1="83.18" y1="548.50" x2="87.58" y2="548.50" stroke="#de4a46" stroke-width="1.1" />
<line x1="101.15" y1="528.20" x2="101.15" y2="532.20" stroke="#222" stroke-width="1.0" />
<line x1="98.95" y1="528.20" x2="103.35" y2="528.20" stroke="#222" stroke-width="1.1" />
<line x1="98.95" y1="532.20" x2="103.35" y2="532.20" stroke="#222" stroke-width="1.1" />
<line x1="101.15" y1="532.14" x2="101.15" y2="540.14" stroke="#de4a46" stroke-width="1.0" />
<line x1="98.95" y1="532.14" x2="103.35" y2="532.14" stroke="#de4a46" stroke-width="1.1" />
<line x1="98.95" y1="540.14" x2="103.35" y2="540.14" stroke="#de4a46" stroke-width="1.1" />
<line x1="116.93" y1="515.13" x2="116.93" y2="521.13" stroke="#222" stroke-width="1.0" />
<line x1="114.73" y1="515.13" x2="119.13" y2="515.13" stroke="#222" stroke-width="1.1" />
<line x1="114.73" y1="521.13" x2="119.13" y2="521.13" stroke="#222" stroke-width="1.1" />
<line x1="116.93" y1="518.54" x2="116.93" y2="528.54" stroke="#de4a46" stroke-width="1.0" />
<line x1="114.73" y1="518.54" x2="119.13" y2="518.54" stroke="#de4a46" stroke-width="1.1" />
<line x1="114.73" y1="528.54" x2="119.13" y2="528.54" stroke="#de4a46" stroke-width="1.1" />
<line x1="132.70" y1="486.19" x2="132.70" y2="500.79" stroke="#222" stroke-width="1.0" />
<line x1="130.50" y1="486.19" x2="134.90" y2="486.19" stroke="#222" stroke-width="1.1" />
<line x1="130.50" y1="500.79" x2="134.90" y2="500.79" stroke="#222" stroke-width="1.1" />
<line x1="132.70" y1="498.05" x2="132.70" y2="514.45" stroke="#de4a46" stroke-width="1.0" />
<line x1="130.50" y1="498.05" x2="134.90" y2="498.05" stroke="#de4a46" stroke-width="1.1" />
<line x1="130.50" y1="514.45" x2="134.90" y2="514.45" stroke="#de4a46" stroke-width="1.1" />
<line x1="148.48" y1="461.54" x2="148.48" y2="477.54" stroke="#222" stroke-width="1.0" />
<line x1="146.28" y1="461.54" x2="150.68" y2="461.54" stroke="#222" stroke-width="1.1" />
<line x1="146.28" y1="477.54" x2="150.68" y2="477.54" stroke="#222" stroke-width="1.1" />
<line x1="148.48" y1="478.76" x2="148.48" y2="497.76" stroke="#de4a46" stroke-width="1.0" />
<line x1="146.28" y1="478.76" x2="150.68" y2="478.76" stroke="#de4a46" stroke-width="1.1" />
<line x1="146.28" y1="497.76" x2="150.68" y2="497.76" stroke="#de4a46" stroke-width="1.1" />
<line x1="164.25" y1="438.30" x2="164.25" y2="458.30" stroke="#222" stroke-width="1.0" />
<line x1="162.05" y1="438.30" x2="166.45" y2="438.30" stroke="#222" stroke-width="1.1" />
<line x1="162.05" y1="458.30" x2="166.45" y2="458.30" stroke="#222" stroke-width="1.1" />
<line x1="164.25" y1="462.17" x2="164.25" y2="483.77" stroke="#de4a46" stroke-width="1.0" />
<line x1="162.05" y1="462.17" x2="166.45" y2="462.17" stroke="#de4a46" stroke-width="1.1" />
<line x1="162.05" y1="483.77" x2="166.45" y2="483.77" stroke="#de4a46" stroke-width="1.1" />
<line x1="180.03" y1="413.50" x2="180.03" y2="434.50" stroke="#222" stroke-width="1.0" />
<line x1="177.83" y1="413.50" x2="182.22" y2="413.50" stroke="#222" stroke-width="1.1" />
<line x1="177.83" y1="434.50" x2="182.22" y2="434.50" stroke="#222" stroke-width="1.1" />
<line x1="180.03" y1="433.88" x2="180.03" y2="455.88" stroke="#de4a46" stroke-width="1.0" />
<line x1="177.83" y1="433.88" x2="182.22" y2="433.88" stroke="#de4a46" stroke-width="1.1" />
<line x1="177.83" y1="455.88" x2="182.22" y2="455.88" stroke="#de4a46" stroke-width="1.1" />
<line x1="195.80" y1="395.84" x2="195.80" y2="411.84" stroke="#222" stroke-width="1.0" />
<line x1="193.60" y1="395.84" x2="198.00" y2="395.84" stroke="#222" stroke-width="1.1" />
<line x1="193.60" y1="411.84" x2="198.00" y2="411.84" stroke="#222" stroke-width="1.1" />
<line x1="195.80" y1="413.00" x2="195.80" y2="435.00" stroke="#de4a46" stroke-width="1.0" />
<line x1="193.60" y1="413.00" x2="198.00" y2="413.00" stroke="#de4a46" stroke-width="1.1" />
<line x1="193.60" y1="435.00" x2="198.00" y2="435.00" stroke="#de4a46" stroke-width="1.1" />
<line x1="211.58" y1="383.07" x2="211.58" y2="395.07" stroke="#222" stroke-width="1.0" />
<line x1="209.38" y1="383.07" x2="213.78" y2="383.07" stroke="#222" stroke-width="1.1" />
<line x1="209.38" y1="395.07" x2="213.78" y2="395.07" stroke="#222" stroke-width="1.1" />
<line x1="211.58" y1="402.49" x2="211.58" y2="418.49" stroke="#de4a46" stroke-width="1.0" />
<line x1="209.38" y1="402.49" x2="213.78" y2="402.49" stroke="#de4a46" stroke-width="1.1" />
<line x1="209.38" y1="418.49" x2="213.78" y2="418.49" stroke="#de4a46" stroke-width="1.1" />
<line x1="227.35" y1="379.90" x2="227.35" y2="388.90" stroke="#222" stroke-width="1.0" />
<line x1="225.15" y1="379.90" x2="229.55" y2="379.90" stroke="#222" stroke-width="1.1" />
<line x1="225.15" y1="388.90" x2="229.55" y2="388.90" stroke="#222" stroke-width="1.1" />
<line x1="227.35" y1="392.69" x2="227.35" y2="406.69" stroke="#de4a46" stroke-width="1.0" />
<line x1="225.15" y1="392.69" x2="229.55" y2="392.69" stroke="#de4a46" stroke-width="1.1" />
<line x1="225.15" y1="406.69" x2="229.55" y2="406.69" stroke="#de4a46" stroke-width="1.1" />
<line x1="243.12" y1="378.34" x2="243.12" y2="384.34" stroke="#222" stroke-width="1.0" />
<line x1="240.93" y1="378.34" x2="245.32" y2="378.34" stroke="#222" stroke-width="1.1" />
<line x1="240.93" y1="384.34" x2="245.32" y2="384.34" stroke="#222" stroke-width="1.1" />
<line x1="243.12" y1="384.70" x2="243.12" y2="396.70" stroke="#de4a46" stroke-width="1.0" />
<line x1="240.93" y1="384.70" x2="245.32" y2="384.70" stroke="#de4a46" stroke-width="1.1" />
<line x1="240.93" y1="396.70" x2="245.32" y2="396.70" stroke="#de4a46" stroke-width="1.1" />
<line x1="258.90" y1="377.90" x2="258.90" y2="381.90" stroke="#222" stroke-width="1.0" />
<line x1="256.70" y1="377.90" x2="261.10" y2="377.90" stroke="#222" stroke-width="1.1" />
<line x1="256.70" y1="381.90" x2="261.10" y2="381.90" stroke="#222" stroke-width="1.1" />
<line x1="258.90" y1="380.04" x2="258.90" y2="388.04" stroke="#de4a46" stroke-width="1.0" />
<line x1="256.70" y1="380.04" x2="261.10" y2="380.04" stroke="#de4a46" stroke-width="1.1" />
<line x1="256.70" y1="388.04" x2="261.10" y2="388.04" stroke="#de4a46" stroke-width="1.1" />
<line x1="274.68" y1="377.00" x2="274.68" y2="381.00" stroke="#222" stroke-width="1.0" />
<line x1="272.48" y1="377.00" x2="276.88" y2="377.00" stroke="#222" stroke-width="1.1" />
<line x1="272.48" y1="381.00" x2="276.88" y2="381.00" stroke="#222" stroke-width="1.1" />
<line x1="274.68" y1="375.91" x2="274.68" y2="379.91" stroke="#de4a46" stroke-width="1.0" />
<line x1="272.48" y1="375.91" x2="276.88" y2="375.91" stroke="#de4a46" stroke-width="1.1" />
<line x1="272.48" y1="379.91" x2="276.88" y2="379.91" stroke="#de4a46" stroke-width="1.1" />
<line x1="290.45" y1="373.77" x2="290.45" y2="377.77" stroke="#222" stroke-width="1.0" />
<line x1="288.25" y1="373.77" x2="292.65" y2="373.77" stroke="#222" stroke-width="1.1" />
<line x1="288.25" y1="377.77" x2="292.65" y2="377.77" stroke="#222" stroke-width="1.1" />
<line x1="290.45" y1="375.91" x2="290.45" y2="379.91" stroke="#de4a46" stroke-width="1.0" />
<line x1="288.25" y1="375.91" x2="292.65" y2="375.91" stroke="#de4a46" stroke-width="1.1" />
<line x1="288.25" y1="379.91" x2="292.65" y2="379.91" stroke="#de4a46" stroke-width="1.1" />
<path d="M85.38 538.61 L86.41 538.15 L87.44 537.68 L88.47 537.18 L89.50 536.68 L90.53 536.15 L91.56 535.61 L92.59 535.05 L93.62 534.47 L94.65 533.88 L95.68 533.26 L96.71 532.63 L97.74 531.98 L98.77 531.31 L99.80 530.61 L100.83 529.90 L101.86 529.16 L102.89 528.40 L103.92 527.62 L104.96 526.82 L105.99 526.00 L107.02 525.15 L108.05 524.28 L109.08 523.38 L110.11 522.46 L111.14 521.52 L112.17 520.55 L113.20 519.56 L114.23 518.54 L115.26 517.49 L116.29 516.43 L117.32 515.33 L118.35 514.21 L119.38 513.07 L120.41 511.90 L121.44 510.70 L122.47 509.48 L123.50 508.23 L124.54 506.96 L125.57 505.66 L126.60 504.34 L127.63 502.99 L128.66 501.62 L129.69 500.23 L130.72 498.81 L131.75 497.38 L132.78 495.91 L133.81 494.43 L134.84 492.93 L135.87 491.41 L136.90 489.86 L137.93 488.30 L138.96 486.72 L139.99 485.13 L141.02 483.52 L142.05 481.89 L143.08 480.25 L144.12 478.60 L145.15 476.93 L146.18 475.26 L147.21 473.58 L148.24 471.88 L149.27 470.19 L150.30 468.48 L151.33 466.77 L152.36 465.06 L153.39 463.35 L154.42 461.63 L155.45 459.92 L156.48 458.21 L157.51 456.50 L158.54 454.79 L159.57 453.10 L160.60 451.41 L161.63 449.72 L162.66 448.05 L163.70 446.39 L164.73 444.74 L165.76 443.10 L166.79 441.47 L167.82 439.86 L168.85 438.27 L169.88 436.69 L170.91 435.13 L171.94 433.59 L172.97 432.07 L174.00 430.57 L175.03 429.09 L176.06 427.63 L177.09 426.20 L178.12 424.78 L179.15 423.39 L180.18 422.02 L181.21 420.68 L182.24 419.36 L183.28 418.07 L184.31 416.80 L185.34 415.55 L186.37 414.34 L187.40 413.14 L188.43 411.97 L189.46 410.83 L190.49 409.71 L191.52 408.62 L192.55 407.56 L193.58 406.52 L194.61 405.50 L195.64 404.51 L196.67 403.54 L197.70 402.60 L198.73 401.69 L199.76 400.79 L200.79 399.92 L201.82 399.08 L202.86 398.26 L203.89 397.46 L204.92 396.68 L205.95 395.92 L206.98 395.19 L208.01 394.48 L209.04 393.79 L210.07 393.12 L211.10 392.47 L212.13 391.83 L213.16 391.22 L214.19 390.63 L215.22 390.05 L216.25 389.50 L217.28 388.96 L218.31 388.43 L219.34 387.93 L220.37 387.44 L221.40 386.97 L222.44 386.51 L223.47 386.06 L224.50 385.64 L225.53 385.22 L226.56 384.82 L227.59 384.43 L228.62 384.06 L229.65 383.70 L230.68 383.35 L231.71 383.01 L232.74 382.68 L233.77 382.37 L234.80 382.06 L235.83 381.77 L236.86 381.49 L237.89 381.21 L238.92 380.95 L239.95 380.69 L240.98 380.45 L242.02 380.21 L243.05 379.98 L244.08 379.76 L245.11 379.55 L246.14 379.34 L247.17 379.14 L248.20 378.95 L249.23 378.77 L250.26 378.59 L251.29 378.42 L252.32 378.26 L253.35 378.10 L254.38 377.94 L255.41 377.80 L256.44 377.65 L257.47 377.52 L258.50 377.38 L259.53 377.26 L260.56 377.13 L261.60 377.02 L262.63 376.90 L263.66 376.79 L264.69 376.69 L265.72 376.59 L266.75 376.49 L267.78 376.39 L268.81 376.30 L269.84 376.22 L270.87 376.13 L271.90 376.05 L272.93 375.97 L273.96 375.90 L274.99 375.82 L276.02 375.75 L277.05 375.69 L278.08 375.62 L279.11 375.56 L280.14 375.50 L281.18 375.44 L282.21 375.39 L283.24 375.33 L284.27 375.28 L285.30 375.23 L286.33 375.19 L287.36 375.14 L288.39 375.10 L289.42 375.05 L290.45 375.01" stroke="#1a1a1a" stroke-width="1.0" fill="none" stroke-linejoin="round" />
<path d="M85.38 540.68 L86.41 540.34 L87.44 539.98 L88.47 539.62 L89.50 539.24 L90.53 538.85 L91.56 538.46 L92.59 538.04 L93.62 537.62 L94.65 537.19 L95.68 536.74 L96.71 536.28 L97.74 535.80 L98.77 535.32 L99.80 534.81 L100.83 534.30 L101.86 533.77 L102.89 533.22 L103.92 532.66 L104.96 532.09 L105.99 531.49 L107.02 530.89 L108.05 530.26 L109.08 529.62 L110.11 528.97 L111.14 528.29 L112.17 527.60 L113.20 526.90 L114.23 526.17 L115.26 525.43 L116.29 524.66 L117.32 523.88 L118.35 523.08 L119.38 522.26 L120.41 521.43 L121.44 520.57 L122.47 519.69 L123.50 518.80 L124.54 517.88 L125.57 516.95 L126.60 516.00 L127.63 515.02 L128.66 514.03 L129.69 513.01 L130.72 511.98 L131.75 510.93 L132.78 509.85 L133.81 508.76 L134.84 507.65 L135.87 506.52 L136.90 505.37 L137.93 504.20 L138.96 503.01 L139.99 501.80 L141.02 500.58 L142.05 499.33 L143.08 498.07 L144.12 496.79 L145.15 495.50 L146.18 494.19 L147.21 492.86 L148.24 491.52 L149.27 490.16 L150.30 488.79 L151.33 487.40 L152.36 486.00 L153.39 484.59 L154.42 483.17 L155.45 481.73 L156.48 480.29 L157.51 478.84 L158.54 477.37 L159.57 475.90 L160.60 474.42 L161.63 472.94 L162.66 471.45 L163.70 469.95 L164.73 468.45 L165.76 466.95 L166.79 465.45 L167.82 463.94 L168.85 462.44 L169.88 460.93 L170.91 459.43 L171.94 457.92 L172.97 456.43 L174.00 454.93 L175.03 453.44 L176.06 451.96 L177.09 450.48 L178.12 449.01 L179.15 447.55 L180.18 446.09 L181.21 444.65 L182.24 443.21 L183.28 441.79 L184.31 440.38 L185.34 438.98 L186.37 437.60 L187.40 436.23 L188.43 434.87 L189.46 433.53 L190.49 432.20 L191.52 430.89 L192.55 429.60 L193.58 428.32 L194.61 427.06 L195.64 425.82 L196.67 424.59 L197.70 423.39 L198.73 422.20 L199.76 421.03 L200.79 419.88 L201.82 418.75 L202.86 417.64 L203.89 416.55 L204.92 415.47 L205.95 414.42 L206.98 413.39 L208.01 412.38 L209.04 411.38 L210.07 410.41 L211.10 409.46 L212.13 408.52 L213.16 407.61 L214.19 406.72 L215.22 405.84 L216.25 404.99 L217.28 404.15 L218.31 403.33 L219.34 402.53 L220.37 401.75 L221.40 400.99 L222.44 400.25 L223.47 399.52 L224.50 398.82 L225.53 398.13 L226.56 397.45 L227.59 396.80 L228.62 396.16 L229.65 395.54 L230.68 394.93 L231.71 394.34 L232.74 393.77 L233.77 393.21 L234.80 392.66 L235.83 392.13 L236.86 391.62 L237.89 391.12 L238.92 390.63 L239.95 390.16 L240.98 389.70 L242.02 389.25 L243.05 388.81 L244.08 388.39 L245.11 387.98 L246.14 387.58 L247.17 387.20 L248.20 386.82 L249.23 386.46 L250.26 386.10 L251.29 385.76 L252.32 385.43 L253.35 385.10 L254.38 384.79 L255.41 384.49 L256.44 384.19 L257.47 383.90 L258.50 383.63 L259.53 383.36 L260.56 383.10 L261.60 382.85 L262.63 382.60 L263.66 382.36 L264.69 382.13 L265.72 381.91 L266.75 381.70 L267.78 381.49 L268.81 381.28 L269.84 381.09 L270.87 380.90 L271.90 380.71 L272.93 380.54 L273.96 380.36 L274.99 380.20 L276.02 380.03 L277.05 379.88 L278.08 379.73 L279.11 379.58 L280.14 379.44 L281.18 379.30 L282.21 379.17 L283.24 379.04 L284.27 378.91 L285.30 378.79 L286.33 378.68 L287.36 378.56 L288.39 378.45 L289.42 378.35 L290.45 378.25" stroke="#ee1c1c" stroke-width="0.95" fill="none" stroke-linejoin="round" />
<rect x="82.88" y="538.13" width="5" height="5" fill="#000"/>
<circle cx="85.38" cy="545.50" r="2.75" fill="#f20c0c"/>
<rect x="98.65" y="527.70" width="5" height="5" fill="#000"/>
<circle cx="101.15" cy="536.14" r="2.75" fill="#f20c0c"/>
<rect x="114.43" y="515.63" width="5" height="5" fill="#000"/>
<circle cx="116.93" cy="523.54" r="2.75" fill="#f20c0c"/>
<rect x="130.20" y="490.99" width="5" height="5" fill="#000"/>
<circle cx="132.70" cy="506.25" r="2.75" fill="#f20c0c"/>
<rect x="145.98" y="467.04" width="5" height="5" fill="#000"/>
<circle cx="148.48" cy="488.26" r="2.75" fill="#f20c0c"/>
<rect x="161.75" y="445.80" width="5" height="5" fill="#000"/>
<circle cx="164.25" cy="472.97" r="2.75" fill="#f20c0c"/>
<rect x="177.53" y="421.50" width="5" height="5" fill="#000"/>
<circle cx="180.03" cy="444.88" r="2.75" fill="#f20c0c"/>
<rect x="193.30" y="401.34" width="5" height="5" fill="#000"/>
<circle cx="195.80" cy="424.00" r="2.75" fill="#f20c0c"/>
<rect x="209.08" y="386.57" width="5" height="5" fill="#000"/>
<circle cx="211.58" cy="410.49" r="2.75" fill="#f20c0c"/>
<rect x="224.85" y="381.90" width="5" height="5" fill="#000"/>
<circle cx="227.35" cy="399.69" r="2.75" fill="#f20c0c"/>
<rect x="240.62" y="378.84" width="5" height="5" fill="#000"/>
<circle cx="243.12" cy="390.70" r="2.75" fill="#f20c0c"/>
<rect x="256.40" y="377.40" width="5" height="5" fill="#000"/>
<circle cx="258.90" cy="384.04" r="2.75" fill="#f20c0c"/>
<rect x="272.18" y="376.50" width="5" height="5" fill="#000"/>
<circle cx="274.68" cy="377.91" r="2.75" fill="#f20c0c"/>
<rect x="287.95" y="373.27" width="5" height="5" fill="#000"/>
<circle cx="290.45" cy="377.91" r="2.75" fill="#f20c0c"/>
<rect x="238.4" y="484.3" width="67.5" height="53.1" fill="#fff" stroke="#666" stroke-width="1"/>
<circle cx="253.80" cy="492.70" r="4.1" fill="#e03020"/>
<text x="266.08" y="495.80" font-family="Liberation Sans" font-size="10" font-weight="normal" fill="#000" text-anchor="start" textLength="33.54" lengthAdjust="spacingAndGlyphs" >Control</text>
<rect x="249.9" y="501.7" width="8.9" height="8.2" fill="#111"/>
<text x="269.95" y="508.50" font-family="Liberation Sans" font-size="10" font-weight="normal" fill="#000" text-anchor="start" textLength="27.48" lengthAdjust="spacingAndGlyphs" >VEGF</text>
<line x1="242.20" y1="518.00" x2="266.80" y2="518.00" stroke="#e03020" stroke-width="2.2" />
<text x="268.98" y="521.20" font-family="Liberation Sans" font-size="10" font-weight="normal" fill="#000" text-anchor="start" textLength="33.74" lengthAdjust="spacingAndGlyphs" >Control</text>
<line x1="242.20" y1="530.20" x2="266.80" y2="530.20" stroke="#111" stroke-width="2.2" />
<text x="269.95" y="533.30" font-family="Liberation Sans" font-size="10" font-weight="normal" fill="#000" text-anchor="start" textLength="27.48" lengthAdjust="spacingAndGlyphs" >VEGF</text>
<line x1="424.40" y1="345.77" x2="424.40" y2="566.10" stroke="#222" stroke-width="1.2" />
<line x1="422.10" y1="565.50" x2="678.55" y2="565.50" stroke="#222" stroke-width="1.2" />
<line x1="422.40" y1="565.73" x2="424.40" y2="565.73" stroke="#222" stroke-width="1.0" />
<line x1="420.40" y1="547.40" x2="424.40" y2="547.40" stroke="#222" stroke-width="1.1" />
<text x="406.18" y="549.80" font-family="Liberation Sans" font-size="8.2" font-weight="normal" fill="#1c1c1c" text-anchor="start" textLength="11.97" lengthAdjust="spacingAndGlyphs" stroke="#1c1c1c" stroke-width="0.22">0.0</text>
<line x1="422.40" y1="529.07" x2="424.40" y2="529.07" stroke="#222" stroke-width="1.0" />
<line x1="420.40" y1="510.74" x2="424.40" y2="510.74" stroke="#222" stroke-width="1.1" />
<text x="406.26" y="513.14" font-family="Liberation Sans" font-size="8.2" font-weight="normal" fill="#1c1c1c" text-anchor="start" textLength="11.97" lengthAdjust="spacingAndGlyphs" stroke="#1c1c1c" stroke-width="0.22">0.2</text>
<line x1="422.40" y1="492.41" x2="424.40" y2="492.41" stroke="#222" stroke-width="1.0" />
<line x1="420.40" y1="474.08" x2="424.40" y2="474.08" stroke="#222" stroke-width="1.1" />
<text x="406.09" y="476.48" font-family="Liberation Sans" font-size="8.2" font-weight="normal" fill="#1c1c1c" text-anchor="start" textLength="11.97" lengthAdjust="spacingAndGlyphs" stroke="#1c1c1c" stroke-width="0.22">0.4</text>
<line x1="422.40" y1="455.75" x2="424.40" y2="455.75" stroke="#222" stroke-width="1.0" />
<line x1="420.40" y1="437.42" x2="424.40" y2="437.42" stroke="#222" stroke-width="1.1" />
<text x="406.22" y="439.82" font-family="Liberation Sans" font-size="8.2" font-weight="normal" fill="#1c1c1c" text-anchor="start" textLength="11.97" lengthAdjust="spacingAndGlyphs" stroke="#1c1c1c" stroke-width="0.22">0.6</text>
<line x1="422.40" y1="419.09" x2="424.40" y2="419.09" stroke="#222" stroke-width="1.0" />
<line x1="420.40" y1="400.76" x2="424.40" y2="400.76" stroke="#222" stroke-width="1.1" />
<text x="406.18" y="403.16" font-family="Liberation Sans" font-size="8.2" font-weight="normal" fill="#1c1c1c" text-anchor="start" textLength="11.97" lengthAdjust="spacingAndGlyphs" stroke="#1c1c1c" stroke-width="0.22">0.8</text>
<line x1="422.40" y1="382.43" x2="424.40" y2="382.43" stroke="#222" stroke-width="1.0" />
<line x1="420.40" y1="364.10" x2="424.40" y2="364.10" stroke="#222" stroke-width="1.1" />
<text x="406.18" y="366.50" font-family="Liberation Sans" font-size="8.2" font-weight="normal" fill="#1c1c1c" text-anchor="start" textLength="11.97" lengthAdjust="spacingAndGlyphs" stroke="#1c1c1c" stroke-width="0.22">1.0</text>
<line x1="422.40" y1="345.77" x2="424.40" y2="345.77" stroke="#222" stroke-width="1.0" />
<line x1="424.34" y1="565.50" x2="424.34" y2="569.90" stroke="#222" stroke-width="1.1" />
<text x="415.91" y="579.60" font-family="Liberation Sans" font-size="8.2" font-weight="normal" fill="#1c1c1c" text-anchor="start" textLength="17.23" lengthAdjust="spacingAndGlyphs" stroke="#1c1c1c" stroke-width="0.22">-120</text>
<line x1="436.45" y1="565.50" x2="436.45" y2="567.70" stroke="#222" stroke-width="1.0" />
<line x1="448.55" y1="565.50" x2="448.55" y2="569.90" stroke="#222" stroke-width="1.1" />
<text x="440.12" y="579.60" font-family="Liberation Sans" font-size="8.2" font-weight="normal" fill="#1c1c1c" text-anchor="start" textLength="17.23" lengthAdjust="spacingAndGlyphs" stroke="#1c1c1c" stroke-width="0.22">-100</text>
<line x1="460.66" y1="565.50" x2="460.66" y2="567.70" stroke="#222" stroke-width="1.0" />
<line x1="472.76" y1="565.50" x2="472.76" y2="569.90" stroke="#222" stroke-width="1.1" />
<text x="466.72" y="579.60" font-family="Liberation Sans" font-size="8.2" font-weight="normal" fill="#1c1c1c" text-anchor="start" textLength="12.44" lengthAdjust="spacingAndGlyphs" stroke="#1c1c1c" stroke-width="0.22">-80</text>
<line x1="484.87" y1="565.50" x2="484.87" y2="567.70" stroke="#222" stroke-width="1.0" />
<line x1="496.97" y1="565.50" x2="496.97" y2="569.90" stroke="#222" stroke-width="1.1" />
<text x="490.93" y="579.60" font-family="Liberation Sans" font-size="8.2" font-weight="normal" fill="#1c1c1c" text-anchor="start" textLength="12.44" lengthAdjust="spacingAndGlyphs" stroke="#1c1c1c" stroke-width="0.22">-60</text>
<line x1="509.08" y1="565.50" x2="509.08" y2="567.70" stroke="#222" stroke-width="1.0" />
<line x1="521.18" y1="565.50" x2="521.18" y2="569.90" stroke="#222" stroke-width="1.1" />
<text x="515.14" y="579.60" font-family="Liberation Sans" font-size="8.2" font-weight="normal" fill="#1c1c1c" text-anchor="start" textLength="12.44" lengthAdjust="spacingAndGlyphs" stroke="#1c1c1c" stroke-width="0.22">-40</text>
<line x1="533.29" y1="565.50" x2="533.29" y2="567.70" stroke="#222" stroke-width="1.0" />
<line x1="545.39" y1="565.50" x2="545.39" y2="569.90" stroke="#222" stroke-width="1.1" />
<text x="539.35" y="579.60" font-family="Liberation Sans" font-size="8.2" font-weight="normal" fill="#1c1c1c" text-anchor="start" textLength="12.44" lengthAdjust="spacingAndGlyphs" stroke="#1c1c1c" stroke-width="0.22">-20</text>
<line x1="557.50" y1="565.50" x2="557.50" y2="567.70" stroke="#222" stroke-width="1.0" />
<line x1="569.60" y1="565.50" x2="569.60" y2="569.90" stroke="#222" stroke-width="1.1" />
<text x="567.41" y="579.60" font-family="Liberation Sans" font-size="8.2" font-weight="normal" fill="#1c1c1c" text-anchor="start" textLength="4.79" lengthAdjust="spacingAndGlyphs" stroke="#1c1c1c" stroke-width="0.22">0</text>
<line x1="581.71" y1="565.50" x2="581.71" y2="567.70" stroke="#222" stroke-width="1.0" />
<line x1="593.81" y1="565.50" x2="593.81" y2="569.90" stroke="#222" stroke-width="1.1" />
<text x="589.19" y="579.60" font-family="Liberation Sans" font-size="8.2" font-weight="normal" fill="#1c1c1c" text-anchor="start" textLength="9.58" lengthAdjust="spacingAndGlyphs" stroke="#1c1c1c" stroke-width="0.22">20</text>
<line x1="605.91" y1="565.50" x2="605.91" y2="567.70" stroke="#222" stroke-width="1.0" />
<line x1="618.02" y1="565.50" x2="618.02" y2="569.90" stroke="#222" stroke-width="1.1" />
<text x="613.51" y="579.60" font-family="Liberation Sans" font-size="8.2" font-weight="normal" fill="#1c1c1c" text-anchor="start" textLength="9.58" lengthAdjust="spacingAndGlyphs" stroke="#1c1c1c" stroke-width="0.22">40</text>
<line x1="630.12" y1="565.50" x2="630.12" y2="567.70" stroke="#222" stroke-width="1.0" />
<line x1="642.23" y1="565.50" x2="642.23" y2="569.90" stroke="#222" stroke-width="1.1" />
<text x="637.61" y="579.60" font-family="Liberation Sans" font-size="8.2" font-weight="normal" fill="#1c1c1c" text-anchor="start" textLength="9.58" lengthAdjust="spacingAndGlyphs" stroke="#1c1c1c" stroke-width="0.22">60</text>
<line x1="654.34" y1="565.50" x2="654.34" y2="567.70" stroke="#222" stroke-width="1.0" />
<line x1="666.44" y1="565.50" x2="666.44" y2="569.90" stroke="#222" stroke-width="1.1" />
<text x="661.84" y="579.60" font-family="Liberation Sans" font-size="8.2" font-weight="normal" fill="#1c1c1c" text-anchor="start" textLength="9.58" lengthAdjust="spacingAndGlyphs" stroke="#1c1c1c" stroke-width="0.22">80</text>
<line x1="678.55" y1="565.50" x2="678.55" y2="567.70" stroke="#222" stroke-width="1.0" />
<text transform="translate(392.70,482.60) rotate(-90)" x="-1.76" y="0" font-family="Liberation Sans" font-size="18.6" fill="#111" textLength="53.31" lengthAdjust="spacingAndGlyphs">I/Imax</text>
<line x1="428.00" y1="454.30" x2="521.50" y2="454.30" stroke="#111" stroke-width="1.5" stroke-dasharray="5 3.4"/>
<line x1="521.50" y1="454.60" x2="521.50" y2="565.00" stroke="#111" stroke-width="1.5" stroke-dasharray="5 3.4"/>
<line x1="448.55" y1="365.77" x2="448.55" y2="369.77" stroke="#222" stroke-width="1.0" />
<line x1="446.35" y1="365.77" x2="450.75" y2="365.77" stroke="#222" stroke-width="1.1" />
<line x1="446.35" y1="369.77" x2="450.75" y2="369.77" stroke="#222" stroke-width="1.1" />
<line x1="448.55" y1="364.35" x2="448.55" y2="380.35" stroke="#de4a46" stroke-width="1.0" />
<line x1="446.35" y1="364.35" x2="450.75" y2="364.35" stroke="#de4a46" stroke-width="1.1" />
<line x1="446.35" y1="380.35" x2="450.75" y2="380.35" stroke="#de4a46" stroke-width="1.1" />
<line x1="460.66" y1="365.77" x2="460.66" y2="369.77" stroke="#222" stroke-width="1.0" />
<line x1="458.46" y1="365.77" x2="462.86" y2="365.77" stroke="#222" stroke-width="1.1" />
<line x1="458.46" y1="369.77" x2="462.86" y2="369.77" stroke="#222" stroke-width="1.1" />
<line x1="460.66" y1="367.52" x2="460.66" y2="373.52" stroke="#de4a46" stroke-width="1.0" />
<line x1="458.46" y1="367.52" x2="462.86" y2="367.52" stroke="#de4a46" stroke-width="1.1" />
<line x1="458.46" y1="373.52" x2="462.86" y2="373.52" stroke="#de4a46" stroke-width="1.1" />
<line x1="472.76" y1="366.32" x2="472.76" y2="370.32" stroke="#222" stroke-width="1.0" />
<line x1="470.56" y1="366.32" x2="474.96" y2="366.32" stroke="#222" stroke-width="1.1" />
<line x1="470.56" y1="370.32" x2="474.96" y2="370.32" stroke="#222" stroke-width="1.1" />
<line x1="472.76" y1="364.97" x2="472.76" y2="374.97" stroke="#de4a46" stroke-width="1.0" />
<line x1="470.56" y1="364.97" x2="474.96" y2="364.97" stroke="#de4a46" stroke-width="1.1" />
<line x1="470.56" y1="374.97" x2="474.96" y2="374.97" stroke="#de4a46" stroke-width="1.1" />
<line x1="484.87" y1="370.72" x2="484.87" y2="374.72" stroke="#222" stroke-width="1.0" />
<line x1="482.67" y1="370.72" x2="487.06" y2="370.72" stroke="#222" stroke-width="1.1" />
<line x1="482.67" y1="374.72" x2="487.06" y2="374.72" stroke="#222" stroke-width="1.1" />
<line x1="484.87" y1="374.05" x2="484.87" y2="386.05" stroke="#de4a46" stroke-width="1.0" />
<line x1="482.67" y1="374.05" x2="487.06" y2="374.05" stroke="#de4a46" stroke-width="1.1" />
<line x1="482.67" y1="386.05" x2="487.06" y2="386.05" stroke="#de4a46" stroke-width="1.1" />
<line x1="496.97" y1="376.50" x2="496.97" y2="382.50" stroke="#222" stroke-width="1.0" />
<line x1="494.77" y1="376.50" x2="499.17" y2="376.50" stroke="#222" stroke-width="1.1" />
<line x1="494.77" y1="382.50" x2="499.17" y2="382.50" stroke="#222" stroke-width="1.1" />
<line x1="496.97" y1="386.56" x2="496.97" y2="403.96" stroke="#de4a46" stroke-width="1.0" />
<line x1="494.77" y1="386.56" x2="499.17" y2="386.56" stroke="#de4a46" stroke-width="1.1" />
<line x1="494.77" y1="403.96" x2="499.17" y2="403.96" stroke="#de4a46" stroke-width="1.1" />
<line x1="509.08" y1="393.73" x2="509.08" y2="399.73" stroke="#222" stroke-width="1.0" />
<line x1="506.88" y1="393.73" x2="511.28" y2="393.73" stroke="#222" stroke-width="1.1" />
<line x1="506.88" y1="399.73" x2="511.28" y2="399.73" stroke="#222" stroke-width="1.1" />
<line x1="509.08" y1="405.99" x2="509.08" y2="429.99" stroke="#de4a46" stroke-width="1.0" />
<line x1="506.88" y1="405.99" x2="511.28" y2="405.99" stroke="#de4a46" stroke-width="1.1" />
<line x1="506.88" y1="429.99" x2="511.28" y2="429.99" stroke="#de4a46" stroke-width="1.1" />
<line x1="521.18" y1="423.30" x2="521.18" y2="445.30" stroke="#222" stroke-width="1.0" />
<line x1="518.98" y1="423.30" x2="523.38" y2="423.30" stroke="#222" stroke-width="1.1" />
<line x1="518.98" y1="445.30" x2="523.38" y2="445.30" stroke="#222" stroke-width="1.1" />
<line x1="521.18" y1="433.35" x2="521.18" y2="469.35" stroke="#de4a46" stroke-width="1.0" />
<line x1="518.98" y1="433.35" x2="523.38" y2="433.35" stroke="#de4a46" stroke-width="1.1" />
<line x1="518.98" y1="469.35" x2="523.38" y2="469.35" stroke="#de4a46" stroke-width="1.1" />
<line x1="533.29" y1="472.83" x2="533.29" y2="480.83" stroke="#222" stroke-width="1.0" />
<line x1="531.09" y1="472.83" x2="535.49" y2="472.83" stroke="#222" stroke-width="1.1" />
<line x1="531.09" y1="480.83" x2="535.49" y2="480.83" stroke="#222" stroke-width="1.1" />
<line x1="533.29" y1="460.63" x2="533.29" y2="510.63" stroke="#de4a46" stroke-width="1.0" />
<line x1="531.09" y1="460.63" x2="535.49" y2="460.63" stroke="#de4a46" stroke-width="1.1" />
<line x1="531.09" y1="510.63" x2="535.49" y2="510.63" stroke="#de4a46" stroke-width="1.1" />
<line x1="545.39" y1="504.45" x2="545.39" y2="536.45" stroke="#222" stroke-width="1.0" />
<line x1="543.19" y1="504.45" x2="547.59" y2="504.45" stroke="#222" stroke-width="1.1" />
<line x1="543.19" y1="536.45" x2="547.59" y2="536.45" stroke="#222" stroke-width="1.1" />
<line x1="545.39" y1="518.74" x2="545.39" y2="524.74" stroke="#de4a46" stroke-width="1.0" />
<line x1="543.19" y1="518.74" x2="547.59" y2="518.74" stroke="#de4a46" stroke-width="1.1" />
<line x1="543.19" y1="524.74" x2="547.59" y2="524.74" stroke="#de4a46" stroke-width="1.1" />
<line x1="557.50" y1="536.88" x2="557.50" y2="542.88" stroke="#222" stroke-width="1.0" />
<line x1="555.29" y1="536.88" x2="559.70" y2="536.88" stroke="#222" stroke-width="1.1" />
<line x1="555.29" y1="542.88" x2="559.70" y2="542.88" stroke="#222" stroke-width="1.1" />
<line x1="557.50" y1="527.00" x2="557.50" y2="537.00" stroke="#de4a46" stroke-width="1.0" />
<line x1="555.29" y1="527.00" x2="559.70" y2="527.00" stroke="#de4a46" stroke-width="1.1" />
<line x1="555.29" y1="537.00" x2="559.70" y2="537.00" stroke="#de4a46" stroke-width="1.1" />
<line x1="569.60" y1="540.63" x2="569.60" y2="544.63" stroke="#222" stroke-width="1.0" />
<line x1="567.40" y1="540.63" x2="571.80" y2="540.63" stroke="#222" stroke-width="1.1" />
<line x1="567.40" y1="544.63" x2="571.80" y2="544.63" stroke="#222" stroke-width="1.1" />
<line x1="569.60" y1="527.74" x2="569.60" y2="537.74" stroke="#de4a46" stroke-width="1.0" />
<line x1="567.40" y1="527.74" x2="571.80" y2="527.74" stroke="#de4a46" stroke-width="1.1" />
<line x1="567.40" y1="537.74" x2="571.80" y2="537.74" stroke="#de4a46" stroke-width="1.1" />
<line x1="581.71" y1="538.43" x2="581.71" y2="542.43" stroke="#222" stroke-width="1.0" />
<line x1="579.50" y1="538.43" x2="583.91" y2="538.43" stroke="#222" stroke-width="1.1" />
<line x1="579.50" y1="542.43" x2="583.91" y2="542.43" stroke="#222" stroke-width="1.1" />
<line x1="581.71" y1="529.39" x2="581.71" y2="539.39" stroke="#de4a46" stroke-width="1.0" />
<line x1="579.50" y1="529.39" x2="583.91" y2="529.39" stroke="#de4a46" stroke-width="1.1" />
<line x1="579.50" y1="539.39" x2="583.91" y2="539.39" stroke="#de4a46" stroke-width="1.1" />
<line x1="593.81" y1="537.52" x2="593.81" y2="541.52" stroke="#222" stroke-width="1.0" />
<line x1="591.61" y1="537.52" x2="596.01" y2="537.52" stroke="#222" stroke-width="1.1" />
<line x1="591.61" y1="541.52" x2="596.01" y2="541.52" stroke="#222" stroke-width="1.1" />
<line x1="593.81" y1="527.74" x2="593.81" y2="537.74" stroke="#de4a46" stroke-width="1.0" />
<line x1="591.61" y1="527.74" x2="596.01" y2="527.74" stroke="#de4a46" stroke-width="1.1" />
<line x1="591.61" y1="537.74" x2="596.01" y2="537.74" stroke="#de4a46" stroke-width="1.1" />
<line x1="605.91" y1="536.42" x2="605.91" y2="540.42" stroke="#222" stroke-width="1.0" />
<line x1="603.71" y1="536.42" x2="608.12" y2="536.42" stroke="#222" stroke-width="1.1" />
<line x1="603.71" y1="540.42" x2="608.12" y2="540.42" stroke="#222" stroke-width="1.1" />
<line x1="605.91" y1="526.00" x2="605.91" y2="538.00" stroke="#de4a46" stroke-width="1.0" />
<line x1="603.71" y1="526.00" x2="608.12" y2="526.00" stroke="#de4a46" stroke-width="1.1" />
<line x1="603.71" y1="538.00" x2="608.12" y2="538.00" stroke="#de4a46" stroke-width="1.1" />
<line x1="618.02" y1="535.50" x2="618.02" y2="539.50" stroke="#222" stroke-width="1.0" />
<line x1="615.82" y1="535.50" x2="620.22" y2="535.50" stroke="#222" stroke-width="1.1" />
<line x1="615.82" y1="539.50" x2="620.22" y2="539.50" stroke="#222" stroke-width="1.1" />
<line x1="618.02" y1="526.82" x2="618.02" y2="536.82" stroke="#de4a46" stroke-width="1.0" />
<line x1="615.82" y1="526.82" x2="620.22" y2="526.82" stroke="#de4a46" stroke-width="1.1" />
<line x1="615.82" y1="536.82" x2="620.22" y2="536.82" stroke="#de4a46" stroke-width="1.1" />
<line x1="630.12" y1="533.30" x2="630.12" y2="537.30" stroke="#222" stroke-width="1.0" />
<line x1="627.92" y1="533.30" x2="632.33" y2="533.30" stroke="#222" stroke-width="1.1" />
<line x1="627.92" y1="537.30" x2="632.33" y2="537.30" stroke="#222" stroke-width="1.1" />
<line x1="630.12" y1="525.72" x2="630.12" y2="535.72" stroke="#de4a46" stroke-width="1.0" />
<line x1="627.92" y1="525.72" x2="632.33" y2="525.72" stroke="#de4a46" stroke-width="1.1" />
<line x1="627.92" y1="535.72" x2="632.33" y2="535.72" stroke="#de4a46" stroke-width="1.1" />
<line x1="642.23" y1="531.75" x2="642.23" y2="537.75" stroke="#222" stroke-width="1.0" />
<line x1="640.03" y1="531.75" x2="644.43" y2="531.75" stroke="#222" stroke-width="1.1" />
<line x1="640.03" y1="537.75" x2="644.43" y2="537.75" stroke="#222" stroke-width="1.1" />
<line x1="642.23" y1="523.62" x2="642.23" y2="535.62" stroke="#de4a46" stroke-width="1.0" />
<line x1="640.03" y1="523.62" x2="644.43" y2="523.62" stroke="#de4a46" stroke-width="1.1" />
<line x1="640.03" y1="535.62" x2="644.43" y2="535.62" stroke="#de4a46" stroke-width="1.1" />
<line x1="654.34" y1="530.29" x2="654.34" y2="536.29" stroke="#222" stroke-width="1.0" />
<line x1="652.13" y1="530.29" x2="656.54" y2="530.29" stroke="#222" stroke-width="1.1" />
<line x1="652.13" y1="536.29" x2="656.54" y2="536.29" stroke="#222" stroke-width="1.1" />
<line x1="654.34" y1="522.70" x2="654.34" y2="534.70" stroke="#de4a46" stroke-width="1.0" />
<line x1="652.13" y1="522.70" x2="656.54" y2="522.70" stroke="#de4a46" stroke-width="1.1" />
<line x1="652.13" y1="534.70" x2="656.54" y2="534.70" stroke="#de4a46" stroke-width="1.1" />
<path d="M448.55 369.04 L449.41 369.05 L450.27 369.05 L451.13 369.05 L451.99 369.05 L452.86 369.05 L453.72 369.05 L454.58 369.06 L455.44 369.06 L456.30 369.06 L457.16 369.06 L458.02 369.07 L458.88 369.07 L459.74 369.08 L460.60 369.08 L461.47 369.09 L462.33 369.09 L463.19 369.10 L464.05 369.11 L464.91 369.11 L465.77 369.12 L466.63 369.13 L467.49 369.15 L468.35 369.16 L469.21 369.18 L470.08 369.19 L470.94 369.21 L471.80 369.23 L472.66 369.26 L473.52 369.28 L474.38 369.31 L475.24 369.35 L476.10 369.39 L476.96 369.43 L477.82 369.48 L478.69 369.53 L479.55 369.59 L480.41 369.65 L481.27 369.73 L482.13 369.81 L482.99 369.91 L483.85 370.01 L484.71 370.13 L485.57 370.26 L486.44 370.41 L487.30 370.57 L488.16 370.76 L489.02 370.96 L489.88 371.19 L490.74 371.45 L491.60 371.74 L492.46 372.06 L493.32 372.42 L494.18 372.82 L495.05 373.27 L495.91 373.77 L496.77 374.32 L497.63 374.94 L498.49 375.63 L499.35 376.39 L500.21 377.23 L501.07 378.17 L501.93 379.21 L502.79 380.36 L503.66 381.62 L504.52 383.01 L505.38 384.54 L506.24 386.22 L507.10 388.06 L507.96 390.06 L508.82 392.24 L509.68 394.61 L510.54 397.17 L511.40 399.92 L512.27 402.88 L513.13 406.04 L513.99 409.41 L514.85 412.97 L515.71 416.73 L516.57 420.67 L517.43 424.78 L518.29 429.04 L519.15 433.43 L520.02 437.94 L520.88 442.53 L521.74 447.18 L522.60 451.86 L523.46 456.55 L524.32 461.20 L525.18 465.81 L526.04 470.34 L526.90 474.76 L527.76 479.06 L528.63 483.21 L529.49 487.21 L530.35 491.03 L531.21 494.68 L532.07 498.13 L532.93 501.40 L533.79 504.47 L534.65 507.36 L535.51 510.05 L536.37 512.56 L537.24 514.90 L538.10 517.06 L538.96 519.06 L539.82 520.91 L540.68 522.61 L541.54 524.18 L542.40 525.62 L543.26 526.93 L544.12 528.14 L544.98 529.24 L545.85 530.25 L546.71 531.17 L547.57 532.01 L548.43 532.77 L549.29 533.47 L550.15 534.10 L551.01 534.67 L551.87 535.20 L552.73 535.67 L553.60 536.11 L554.46 536.50 L555.32 536.85 L556.18 537.18 L557.04 537.47 L557.90 537.73 L558.76 537.97 L559.62 538.19 L560.48 538.39 L561.34 538.57 L562.21 538.73 L563.07 538.88 L563.93 539.01 L564.79 539.13 L565.65 539.24 L566.51 539.34 L567.37 539.43 L568.23 539.51 L569.09 539.59 L569.95 539.65 L570.82 539.71 L571.68 539.77 L572.54 539.82 L573.40 539.86 L574.26 539.90 L575.12 539.94 L575.98 539.97 L576.84 540.00 L577.70 540.03 L578.56 540.05 L579.43 540.08 L580.29 540.10 L581.15 540.12 L582.01 540.13 L582.87 540.15 L583.73 540.16 L584.59 540.17 L585.45 540.18 L586.31 540.19 L587.18 540.20 L588.04 540.21 L588.90 540.22 L589.76 540.23 L590.62 540.23 L591.48 540.24 L592.34 540.24 L593.20 540.25 L594.06 540.25 L594.92 540.25 L595.79 540.26 L596.65 540.26 L597.51 540.26 L598.37 540.27 L599.23 540.27 L600.09 540.27 L600.95 540.27 L601.81 540.27 L602.67 540.28 L603.53 540.28 L604.40 540.28 L605.26 540.28 L606.12 540.28 L606.98 540.28 L607.84 540.28 L608.70 540.28 L609.56 540.28 L610.42 540.28 L611.28 540.28 L612.14 540.29 L613.01 540.29 L613.87 540.29 L614.73 540.29 L615.59 540.29 L616.45 540.29 L617.31 540.29 L618.17 540.29 L619.03 540.29 L619.89 540.29 L620.76 540.29 L621.62 540.29 L622.48 540.29 L623.34 540.29 L624.20 540.29 L625.06 540.29 L625.92 540.29 L626.78 540.29 L627.64 540.29 L628.50 540.29 L629.37 540.29 L630.23 540.29 L631.09 540.29 L631.95 540.29 L632.81 540.29 L633.67 540.29 L634.53 540.29 L635.39 540.29 L636.25 540.29 L637.11 540.29 L637.98 540.29 L638.84 540.29 L639.70 540.29 L640.56 540.29 L641.42 540.29 L642.28 540.29 L643.14 540.29 L644.00 540.29 L644.86 540.29 L645.72 540.29 L646.59 540.29 L647.45 540.29 L648.31 540.29 L649.17 540.29 L650.03 540.29 L650.89 540.29 L651.75 540.29 L652.61 540.29 L653.47 540.29 L654.34 540.29" stroke="#1a1a1a" stroke-width="1.0" fill="none" stroke-linejoin="round" />
<path d="M448.55 369.50 L449.41 369.53 L450.27 369.55 L451.13 369.58 L451.99 369.61 L452.86 369.64 L453.72 369.68 L454.58 369.71 L455.44 369.75 L456.30 369.80 L457.16 369.84 L458.02 369.89 L458.88 369.95 L459.74 370.01 L460.60 370.07 L461.47 370.14 L462.33 370.22 L463.19 370.30 L464.05 370.38 L464.91 370.48 L465.77 370.58 L466.63 370.69 L467.49 370.81 L468.35 370.94 L469.21 371.08 L470.08 371.23 L470.94 371.40 L471.80 371.57 L472.66 371.76 L473.52 371.97 L474.38 372.19 L475.24 372.43 L476.10 372.69 L476.96 372.97 L477.82 373.27 L478.69 373.59 L479.55 373.94 L480.41 374.32 L481.27 374.73 L482.13 375.16 L482.99 375.63 L483.85 376.14 L484.71 376.68 L485.57 377.27 L486.44 377.90 L487.30 378.57 L488.16 379.30 L489.02 380.08 L489.88 380.91 L490.74 381.80 L491.60 382.76 L492.46 383.78 L493.32 384.87 L494.18 386.03 L495.05 387.27 L495.91 388.59 L496.77 389.99 L497.63 391.48 L498.49 393.06 L499.35 394.73 L500.21 396.50 L501.07 398.37 L501.93 400.34 L502.79 402.41 L503.66 404.58 L504.52 406.86 L505.38 409.23 L506.24 411.72 L507.10 414.30 L507.96 416.98 L508.82 419.76 L509.68 422.62 L510.54 425.58 L511.40 428.61 L512.27 431.71 L513.13 434.88 L513.99 438.11 L514.85 441.39 L515.71 444.70 L516.57 448.04 L517.43 451.39 L518.29 454.75 L519.15 458.10 L520.02 461.44 L520.88 464.74 L521.74 468.01 L522.60 471.23 L523.46 474.38 L524.32 477.47 L525.18 480.48 L526.04 483.41 L526.90 486.25 L527.76 488.99 L528.63 491.63 L529.49 494.16 L530.35 496.59 L531.21 498.91 L532.07 501.12 L532.93 503.21 L533.79 505.20 L534.65 507.09 L535.51 508.86 L536.37 510.53 L537.24 512.11 L538.10 513.58 L538.96 514.96 L539.82 516.25 L540.68 517.46 L541.54 518.58 L542.40 519.63 L543.26 520.60 L544.12 521.50 L544.98 522.33 L545.85 523.11 L546.71 523.82 L547.57 524.48 L548.43 525.10 L549.29 525.66 L550.15 526.18 L551.01 526.66 L551.87 527.10 L552.73 527.50 L553.60 527.87 L554.46 528.22 L555.32 528.53 L556.18 528.82 L557.04 529.08 L557.90 529.33 L558.76 529.55 L559.62 529.75 L560.48 529.94 L561.34 530.11 L562.21 530.27 L563.07 530.41 L563.93 530.54 L564.79 530.66 L565.65 530.77 L566.51 530.87 L567.37 530.97 L568.23 531.05 L569.09 531.13 L569.95 531.20 L570.82 531.26 L571.68 531.32 L572.54 531.37 L573.40 531.42 L574.26 531.47 L575.12 531.51 L575.98 531.54 L576.84 531.58 L577.70 531.61 L578.56 531.64 L579.43 531.66 L580.29 531.69 L581.15 531.71 L582.01 531.73 L582.87 531.75 L583.73 531.76 L584.59 531.78 L585.45 531.79 L586.31 531.80 L587.18 531.82 L588.04 531.83 L588.90 531.84 L589.76 531.84 L590.62 531.85 L591.48 531.86 L592.34 531.87 L593.20 531.87 L594.06 531.88 L594.92 531.88 L595.79 531.89 L596.65 531.89 L597.51 531.89 L598.37 531.90 L599.23 531.90 L600.09 531.90 L600.95 531.91 L601.81 531.91 L602.67 531.91 L603.53 531.91 L604.40 531.92 L605.26 531.92 L606.12 531.92 L606.98 531.92 L607.84 531.92 L608.70 531.92 L609.56 531.92 L610.42 531.92 L611.28 531.93 L612.14 531.93 L613.01 531.93 L613.87 531.93 L614.73 531.93 L615.59 531.93 L616.45 531.93 L617.31 531.93 L618.17 531.93 L619.03 531.93 L619.89 531.93 L620.76 531.93 L621.62 531.93 L622.48 531.93 L623.34 531.93 L624.20 531.93 L625.06 531.93 L625.92 531.93 L626.78 531.93 L627.64 531.93 L628.50 531.93 L629.37 531.93 L630.23 531.93 L631.09 531.93 L631.95 531.93 L632.81 531.93 L633.67 531.93 L634.53 531.93 L635.39 531.93 L636.25 531.93 L637.11 531.93 L637.98 531.93 L638.84 531.93 L639.70 531.93 L640.56 531.93 L641.42 531.93 L642.28 531.93 L643.14 531.93 L644.00 531.93 L644.86 531.93 L645.72 531.93 L646.59 531.93 L647.45 531.93 L648.31 531.93 L649.17 531.93 L650.03 531.93 L650.89 531.93 L651.75 531.93 L652.61 531.93 L653.47 531.93 L654.34 531.93" stroke="#ee1c1c" stroke-width="0.95" fill="none" stroke-linejoin="round" />
<rect x="446.05" y="365.27" width="5" height="5" fill="#000"/>
<circle cx="448.55" cy="372.35" r="2.75" fill="#f20c0c"/>
<rect x="458.16" y="365.27" width="5" height="5" fill="#000"/>
<circle cx="460.66" cy="370.52" r="2.75" fill="#f20c0c"/>
<rect x="470.26" y="365.82" width="5" height="5" fill="#000"/>
<circle cx="472.76" cy="369.97" r="2.75" fill="#f20c0c"/>
<rect x="482.37" y="370.22" width="5" height="5" fill="#000"/>
<circle cx="484.87" cy="380.05" r="2.75" fill="#f20c0c"/>
<rect x="494.47" y="377.00" width="5" height="5" fill="#000"/>
<circle cx="496.97" cy="395.26" r="2.75" fill="#f20c0c"/>
<rect x="506.58" y="394.23" width="5" height="5" fill="#000"/>
<circle cx="509.08" cy="417.99" r="2.75" fill="#f20c0c"/>
<rect x="518.68" y="431.80" width="5" height="5" fill="#000"/>
<circle cx="521.18" cy="451.35" r="2.75" fill="#f20c0c"/>
<rect x="530.79" y="474.33" width="5" height="5" fill="#000"/>
<circle cx="533.29" cy="485.63" r="2.75" fill="#f20c0c"/>
<rect x="542.89" y="517.95" width="5" height="5" fill="#000"/>
<circle cx="545.39" cy="521.74" r="2.75" fill="#f20c0c"/>
<rect x="555.00" y="537.38" width="5" height="5" fill="#000"/>
<circle cx="557.50" cy="532.00" r="2.75" fill="#f20c0c"/>
<rect x="567.10" y="540.13" width="5" height="5" fill="#000"/>
<circle cx="569.60" cy="532.74" r="2.75" fill="#f20c0c"/>
<rect x="579.21" y="537.93" width="5" height="5" fill="#000"/>
<circle cx="581.71" cy="534.39" r="2.75" fill="#f20c0c"/>
<rect x="591.31" y="537.02" width="5" height="5" fill="#000"/>
<circle cx="593.81" cy="532.74" r="2.75" fill="#f20c0c"/>
<rect x="603.41" y="535.92" width="5" height="5" fill="#000"/>
<circle cx="605.91" cy="532.00" r="2.75" fill="#f20c0c"/>
<rect x="615.52" y="535.00" width="5" height="5" fill="#000"/>
<circle cx="618.02" cy="531.82" r="2.75" fill="#f20c0c"/>
<rect x="627.62" y="532.80" width="5" height="5" fill="#000"/>
<circle cx="630.12" cy="530.72" r="2.75" fill="#f20c0c"/>
<rect x="639.73" y="532.25" width="5" height="5" fill="#000"/>
<circle cx="642.23" cy="529.62" r="2.75" fill="#f20c0c"/>
<rect x="651.84" y="530.79" width="5" height="5" fill="#000"/>
<circle cx="654.34" cy="528.70" r="2.75" fill="#f20c0c"/>
<rect x="592.2" y="439.9" width="65.4" height="54.3" fill="#fff" stroke="#666" stroke-width="1"/>
<circle cx="608.90" cy="448.50" r="4.1" fill="#e03020"/>
<text x="621.60" y="452.00" font-family="Liberation Sans" font-size="10" font-weight="normal" fill="#000" text-anchor="start" textLength="32.39" lengthAdjust="spacingAndGlyphs" >Control</text>
<rect x="604.3" y="459.2" width="8.7" height="7.2" fill="#111"/>
<text x="622.55" y="464.80" font-family="Liberation Sans" font-size="10" font-weight="normal" fill="#000" text-anchor="start" textLength="26.87" lengthAdjust="spacingAndGlyphs" >VEGF</text>
<line x1="596.10" y1="474.10" x2="620.60" y2="474.10" stroke="#e03020" stroke-width="2.2" />
<text x="621.90" y="477.60" font-family="Liberation Sans" font-size="10" font-weight="normal" fill="#000" text-anchor="start" textLength="32.08" lengthAdjust="spacingAndGlyphs" >Control</text>
<line x1="596.10" y1="487.20" x2="620.60" y2="487.20" stroke="#111" stroke-width="2.2" />
<text x="622.55" y="490.00" font-family="Liberation Sans" font-size="10" font-weight="normal" fill="#000" text-anchor="start" textLength="26.87" lengthAdjust="spacingAndGlyphs" >VEGF</text>
</svg>
</body></html>
